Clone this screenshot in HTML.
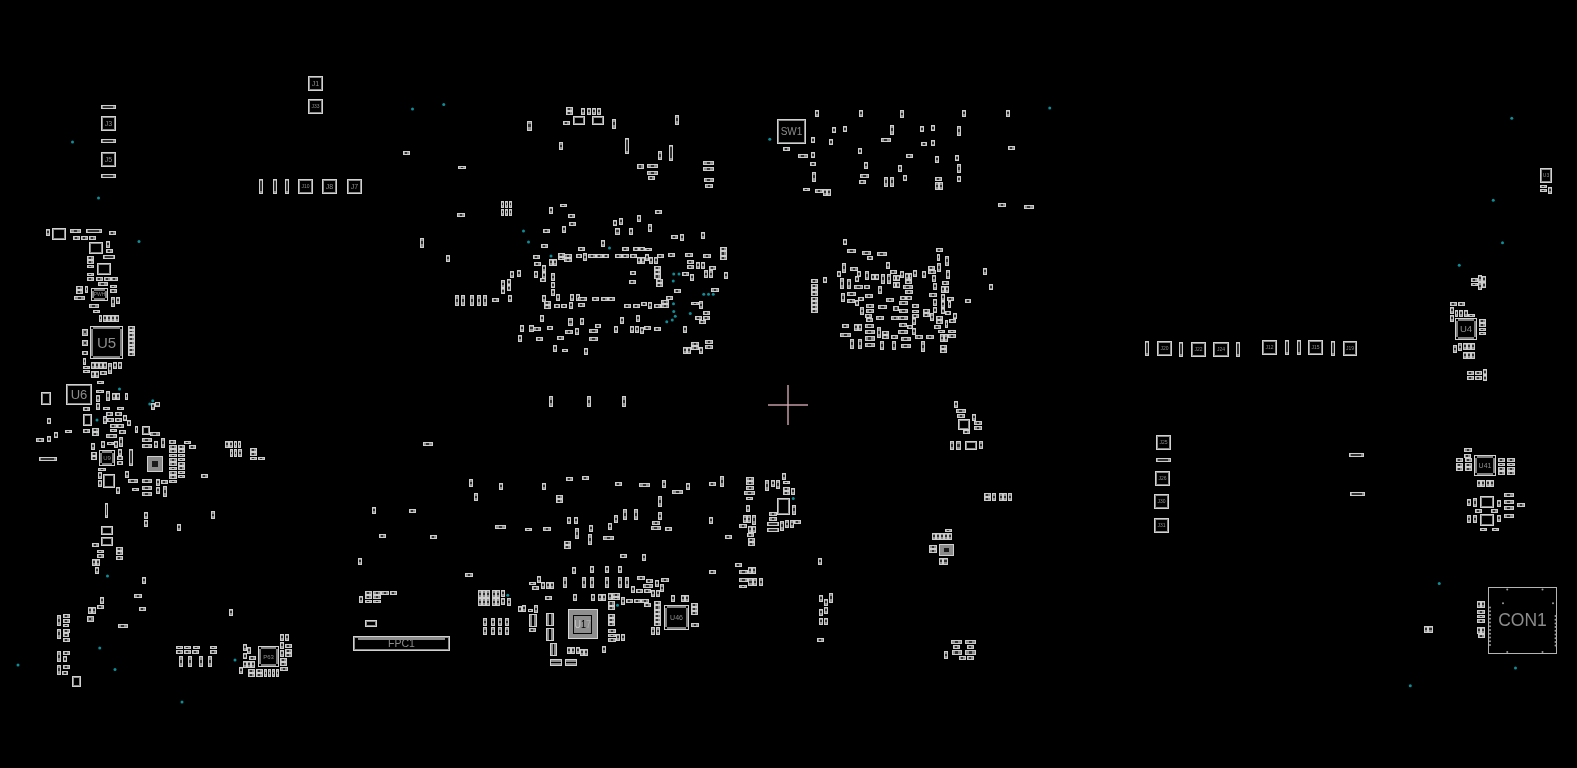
<!DOCTYPE html>
<html><head><meta charset="utf-8"><style>
html,body{margin:0;padding:0;background:#000;width:1577px;height:768px;overflow:hidden}
svg{display:block;will-change:transform}
.o{fill:none;stroke:#d2d2d2;stroke-width:1}
.c{fill:#8c8c8c;stroke:#cdcdcd;stroke-width:1}
.d{fill:#303030}
.e{fill:#3c3c3c}
.s{fill:none;stroke:#202020;stroke-width:1}
.i{fill:none;stroke:#8a8a8a;stroke-width:1}
.p{fill:none;stroke:#7e7e7e;stroke-width:2}
.t{font-family:"Liberation Sans",sans-serif;fill:#8c8c8c;text-anchor:middle}
</style></head><body>
<svg width="1577" height="768" viewBox="0 0 1577 768" shape-rendering="crispEdges">
<rect width="1577" height="768" fill="#000"/>
<rect x="101.5" y="105.5" width="14" height="3" class="c"/><rect x="103" y="106" width="10" height="2" class="d"/>
<rect x="101.5" y="139.5" width="14" height="3" class="c"/><rect x="103" y="140" width="10" height="2" class="d"/>
<rect x="101.5" y="174.5" width="14" height="3" class="c"/><rect x="103" y="175" width="10" height="2" class="d"/>
<rect x="46.5" y="229.5" width="3" height="6" class="c"/><rect x="47" y="231" width="2" height="2" class="d"/>
<rect x="70.5" y="229.5" width="10" height="3" class="c"/><rect x="74" y="230" width="3" height="2" class="d"/>
<rect x="86.5" y="229.5" width="15" height="3" class="c"/><rect x="88" y="230" width="11" height="2" class="d"/>
<rect x="109.5" y="231.5" width="6" height="3" class="c"/><rect x="111" y="232" width="2" height="2" class="d"/>
<rect x="73.5" y="236.5" width="6" height="3" class="c"/><rect x="75" y="237" width="2" height="2" class="d"/>
<rect x="81.5" y="236.5" width="6" height="3" class="c"/><rect x="83" y="237" width="2" height="2" class="d"/>
<rect x="89.5" y="236.5" width="6" height="3" class="c"/><rect x="91" y="237" width="2" height="2" class="d"/>
<rect x="106.5" y="241.5" width="3" height="6" class="c"/><rect x="107" y="243" width="2" height="2" class="d"/>
<rect x="106.5" y="249.5" width="6" height="3" class="c"/><rect x="108" y="250" width="2" height="2" class="d"/>
<rect x="103.5" y="255.5" width="11" height="3" class="c"/><rect x="105" y="256" width="8" height="2" class="d"/>
<rect x="87.5" y="256.5" width="6" height="3" class="c"/><rect x="89" y="257" width="2" height="2" class="d"/>
<rect x="87.5" y="260.5" width="6" height="3" class="c"/><rect x="89" y="261" width="2" height="2" class="d"/>
<rect x="87.5" y="265.5" width="6" height="2" class="c"/><rect x="89" y="266" width="2" height="1" class="d"/>
<rect x="87.5" y="273.5" width="6" height="2" class="c"/><rect x="89" y="274" width="2" height="1" class="d"/>
<rect x="87.5" y="277.5" width="6" height="3" class="c"/><rect x="89" y="278" width="2" height="2" class="d"/>
<rect x="96.5" y="277.5" width="6" height="3" class="c"/><rect x="98" y="278" width="2" height="2" class="d"/>
<rect x="104.5" y="277.5" width="6" height="3" class="c"/><rect x="106" y="278" width="2" height="2" class="d"/>
<rect x="111.5" y="277.5" width="6" height="3" class="c"/><rect x="113" y="278" width="2" height="2" class="d"/>
<rect x="98.5" y="282.5" width="9" height="3" class="c"/><rect x="101" y="283" width="3" height="2" class="d"/>
<rect x="110.5" y="285.5" width="6" height="2" class="c"/><rect x="112" y="286" width="2" height="1" class="d"/>
<rect x="110.5" y="289.5" width="6" height="3" class="c"/><rect x="112" y="290" width="2" height="2" class="d"/>
<rect x="76.5" y="286.5" width="6" height="3" class="c"/><rect x="78" y="287" width="2" height="2" class="d"/>
<rect x="76.5" y="290.5" width="6" height="3" class="c"/><rect x="78" y="291" width="2" height="2" class="d"/>
<rect x="85.5" y="286.5" width="2" height="6" class="c"/><rect x="86" y="288" width="1" height="2" class="d"/>
<rect x="74.5" y="296.5" width="10" height="3" class="c"/><rect x="78" y="297" width="3" height="2" class="d"/>
<rect x="111.5" y="297.5" width="3" height="9" class="c"/><rect x="112" y="300" width="2" height="3" class="d"/>
<rect x="116.5" y="297.5" width="3" height="6" class="c"/><rect x="117" y="299" width="2" height="2" class="d"/>
<rect x="89.5" y="304.5" width="9" height="3" class="c"/><rect x="92" y="305" width="3" height="2" class="d"/>
<rect x="93.5" y="310.5" width="6" height="2" class="c"/><rect x="95" y="311" width="2" height="1" class="d"/>
<rect x="99.5" y="315.5" width="2" height="6" class="c"/><rect x="100" y="317" width="1" height="2" class="d"/>
<rect x="103.5" y="315.5" width="3" height="6" class="c"/><rect x="104" y="317" width="2" height="2" class="d"/>
<rect x="107.5" y="315.5" width="3" height="6" class="c"/><rect x="108" y="317" width="2" height="2" class="d"/>
<rect x="111.5" y="315.5" width="3" height="6" class="c"/><rect x="112" y="317" width="2" height="2" class="d"/>
<rect x="115.5" y="315.5" width="3" height="6" class="c"/><rect x="116" y="317" width="2" height="2" class="d"/>
<rect x="128.5" y="326.5" width="6" height="3" class="c"/><rect x="130" y="327" width="2" height="2" class="d"/>
<rect x="128.5" y="330.5" width="6" height="2" class="c"/><rect x="130" y="331" width="2" height="1" class="d"/>
<rect x="128.5" y="333.5" width="6" height="3" class="c"/><rect x="130" y="334" width="2" height="2" class="d"/>
<rect x="128.5" y="337.5" width="6" height="3" class="c"/><rect x="130" y="338" width="2" height="2" class="d"/>
<rect x="128.5" y="341.5" width="6" height="3" class="c"/><rect x="130" y="342" width="2" height="2" class="d"/>
<rect x="128.5" y="345.5" width="6" height="2" class="c"/><rect x="130" y="346" width="2" height="1" class="d"/>
<rect x="128.5" y="348.5" width="6" height="3" class="c"/><rect x="130" y="349" width="2" height="2" class="d"/>
<rect x="128.5" y="352.5" width="6" height="3" class="c"/><rect x="130" y="353" width="2" height="2" class="d"/>
<rect x="82.5" y="329.5" width="5" height="6" class="c"/><rect x="84" y="331" width="2" height="2" class="d"/>
<rect x="82.5" y="340.5" width="5" height="5" class="c"/><rect x="84" y="342" width="2" height="2" class="d"/>
<rect x="82.5" y="351.5" width="5" height="3" class="c"/><rect x="84" y="352" width="2" height="2" class="d"/>
<rect x="83.5" y="358.5" width="2" height="6" class="c"/><rect x="84" y="360" width="1" height="2" class="d"/>
<rect x="91.5" y="362.5" width="3" height="6" class="c"/><rect x="92" y="364" width="2" height="2" class="d"/>
<rect x="95.5" y="362.5" width="3" height="6" class="c"/><rect x="96" y="364" width="2" height="2" class="d"/>
<rect x="99.5" y="362.5" width="3" height="6" class="c"/><rect x="100" y="364" width="2" height="2" class="d"/>
<rect x="103.5" y="362.5" width="3" height="6" class="c"/><rect x="104" y="364" width="2" height="2" class="d"/>
<rect x="108.5" y="363.5" width="3" height="10" class="c"/><rect x="109" y="367" width="2" height="3" class="d"/>
<rect x="113.5" y="362.5" width="3" height="6" class="c"/><rect x="114" y="364" width="2" height="2" class="d"/>
<rect x="118.5" y="362.5" width="3" height="6" class="c"/><rect x="119" y="364" width="2" height="2" class="d"/>
<rect x="83.5" y="366.5" width="6" height="2" class="c"/><rect x="85" y="367" width="2" height="1" class="d"/>
<rect x="83.5" y="370.5" width="6" height="2" class="c"/><rect x="85" y="371" width="2" height="1" class="d"/>
<rect x="91.5" y="371.5" width="3" height="6" class="c"/><rect x="92" y="373" width="2" height="2" class="d"/>
<rect x="95.5" y="371.5" width="3" height="6" class="c"/><rect x="96" y="373" width="2" height="2" class="d"/>
<rect x="100.5" y="371.5" width="6" height="3" class="c"/><rect x="102" y="372" width="2" height="2" class="d"/>
<rect x="97.5" y="381.5" width="6" height="2" class="c"/><rect x="99" y="382" width="2" height="1" class="d"/>
<rect x="96.5" y="390.5" width="7" height="2" class="c"/><rect x="99" y="391" width="2" height="1" class="d"/>
<rect x="96.5" y="395.5" width="3" height="6" class="c"/><rect x="97" y="397" width="2" height="2" class="d"/>
<rect x="106.5" y="391.5" width="3" height="9" class="c"/><rect x="107" y="394" width="2" height="3" class="d"/>
<rect x="112.5" y="393.5" width="3" height="6" class="c"/><rect x="113" y="395" width="2" height="2" class="d"/>
<rect x="116.5" y="393.5" width="3" height="6" class="c"/><rect x="117" y="395" width="2" height="2" class="d"/>
<rect x="125.5" y="393.5" width="2" height="6" class="c"/><rect x="126" y="395" width="1" height="2" class="d"/>
<rect x="151.5" y="403.5" width="3" height="6" class="c"/><rect x="152" y="405" width="2" height="2" class="d"/>
<rect x="155.5" y="402.5" width="4" height="4" class="c"/><rect x="156" y="403" width="3" height="2" class="d"/>
<rect x="96.5" y="403.5" width="3" height="6" class="c"/><rect x="97" y="405" width="2" height="2" class="d"/>
<rect x="83.5" y="407.5" width="6" height="3" class="c"/><rect x="85" y="408" width="2" height="2" class="d"/>
<rect x="103.5" y="407.5" width="6" height="2" class="c"/><rect x="105" y="408" width="2" height="1" class="d"/>
<rect x="117.5" y="407.5" width="6" height="2" class="c"/><rect x="119" y="408" width="2" height="1" class="d"/>
<rect x="103.5" y="416.5" width="3" height="7" class="c"/><rect x="104" y="419" width="2" height="2" class="d"/>
<rect x="106.5" y="412.5" width="6" height="3" class="c"/><rect x="108" y="413" width="2" height="2" class="d"/>
<rect x="107.5" y="418.5" width="6" height="3" class="c"/><rect x="109" y="419" width="2" height="2" class="d"/>
<rect x="115.5" y="412.5" width="6" height="3" class="c"/><rect x="117" y="413" width="2" height="2" class="d"/>
<rect x="115.5" y="418.5" width="6" height="3" class="c"/><rect x="117" y="419" width="2" height="2" class="d"/>
<rect x="123.5" y="415.5" width="3" height="5" class="c"/><rect x="124" y="417" width="2" height="2" class="d"/>
<rect x="127.5" y="420.5" width="3" height="5" class="c"/><rect x="128" y="422" width="2" height="2" class="d"/>
<rect x="47.5" y="418.5" width="3" height="5" class="c"/><rect x="48" y="420" width="2" height="2" class="d"/>
<rect x="110.5" y="424.5" width="6" height="3" class="c"/><rect x="112" y="425" width="2" height="2" class="d"/>
<rect x="117.5" y="424.5" width="6" height="3" class="c"/><rect x="119" y="425" width="2" height="2" class="d"/>
<rect x="110.5" y="429.5" width="6" height="2" class="c"/><rect x="112" y="430" width="2" height="1" class="d"/>
<rect x="119.5" y="430.5" width="6" height="3" class="c"/><rect x="121" y="431" width="2" height="2" class="d"/>
<rect x="135.5" y="426.5" width="2" height="6" class="c"/><rect x="136" y="428" width="1" height="2" class="d"/>
<rect x="65.5" y="430.5" width="6" height="2" class="c"/><rect x="67" y="431" width="2" height="1" class="d"/>
<rect x="83.5" y="429.5" width="6" height="3" class="c"/><rect x="85" y="430" width="2" height="2" class="d"/>
<rect x="92.5" y="428.5" width="6" height="3" class="c"/><rect x="94" y="429" width="2" height="2" class="d"/>
<rect x="92.5" y="432.5" width="6" height="3" class="c"/><rect x="94" y="433" width="2" height="2" class="d"/>
<rect x="150.5" y="432.5" width="9" height="3" class="c"/><rect x="153" y="433" width="3" height="2" class="d"/>
<rect x="106.5" y="434.5" width="10" height="3" class="c"/><rect x="110" y="435" width="3" height="2" class="d"/>
<rect x="54.5" y="432.5" width="3" height="5" class="c"/><rect x="55" y="434" width="2" height="2" class="d"/>
<rect x="36.5" y="438.5" width="7" height="3" class="c"/><rect x="39" y="439" width="2" height="2" class="d"/>
<rect x="47.5" y="436.5" width="3" height="5" class="c"/><rect x="48" y="438" width="2" height="2" class="d"/>
<rect x="142.5" y="438.5" width="9" height="3" class="c"/><rect x="145" y="439" width="3" height="2" class="d"/>
<rect x="142.5" y="444.5" width="9" height="3" class="c"/><rect x="145" y="445" width="3" height="2" class="d"/>
<rect x="154.5" y="441.5" width="3" height="6" class="c"/><rect x="155" y="443" width="2" height="2" class="d"/>
<rect x="161.5" y="438.5" width="3" height="9" class="c"/><rect x="162" y="441" width="2" height="3" class="d"/>
<rect x="119.5" y="437.5" width="3" height="9" class="c"/><rect x="120" y="440" width="2" height="3" class="d"/>
<rect x="101.5" y="441.5" width="3" height="6" class="c"/><rect x="102" y="443" width="2" height="2" class="d"/>
<rect x="107.5" y="442.5" width="6" height="2" class="c"/><rect x="109" y="443" width="2" height="1" class="d"/>
<rect x="114.5" y="441.5" width="3" height="6" class="c"/><rect x="115" y="443" width="2" height="2" class="d"/>
<rect x="91.5" y="443.5" width="3" height="6" class="c"/><rect x="92" y="445" width="2" height="2" class="d"/>
<rect x="91.5" y="452.5" width="5" height="3" class="c"/><rect x="93" y="453" width="2" height="2" class="d"/>
<rect x="91.5" y="456.5" width="5" height="3" class="c"/><rect x="93" y="457" width="2" height="2" class="d"/>
<rect x="118.5" y="449.5" width="3" height="6" class="c"/><rect x="119" y="451" width="2" height="2" class="d"/>
<rect x="117.5" y="456.5" width="5" height="3" class="c"/><rect x="119" y="457" width="2" height="2" class="d"/>
<rect x="117.5" y="461.5" width="5" height="3" class="c"/><rect x="119" y="462" width="2" height="2" class="d"/>
<rect x="129.5" y="449.5" width="3" height="16" class="c"/><rect x="130" y="451" width="2" height="12" class="d"/>
<rect x="169.5" y="440.5" width="6" height="3" class="c"/><rect x="171" y="441" width="2" height="2" class="d"/>
<rect x="184.5" y="441.5" width="6" height="2" class="c"/><rect x="186" y="442" width="2" height="1" class="d"/>
<rect x="169.5" y="445.5" width="7" height="3" class="c"/><rect x="172" y="446" width="2" height="2" class="d"/>
<rect x="169.5" y="449.5" width="7" height="3" class="c"/><rect x="172" y="450" width="2" height="2" class="d"/>
<rect x="169.5" y="454.5" width="7" height="2" class="c"/><rect x="172" y="455" width="2" height="1" class="d"/>
<rect x="169.5" y="458.5" width="7" height="3" class="c"/><rect x="172" y="459" width="2" height="2" class="d"/>
<rect x="169.5" y="462.5" width="7" height="3" class="c"/><rect x="172" y="463" width="2" height="2" class="d"/>
<rect x="169.5" y="467.5" width="7" height="2" class="c"/><rect x="172" y="468" width="2" height="1" class="d"/>
<rect x="169.5" y="471.5" width="7" height="3" class="c"/><rect x="172" y="472" width="2" height="2" class="d"/>
<rect x="169.5" y="475.5" width="7" height="3" class="c"/><rect x="172" y="476" width="2" height="2" class="d"/>
<rect x="169.5" y="480.5" width="7" height="2" class="c"/><rect x="172" y="481" width="2" height="1" class="d"/>
<rect x="178.5" y="445.5" width="6" height="3" class="c"/><rect x="180" y="446" width="2" height="2" class="d"/>
<rect x="178.5" y="449.5" width="6" height="3" class="c"/><rect x="180" y="450" width="2" height="2" class="d"/>
<rect x="178.5" y="454.5" width="6" height="2" class="c"/><rect x="180" y="455" width="2" height="1" class="d"/>
<rect x="178.5" y="458.5" width="6" height="2" class="c"/><rect x="180" y="459" width="2" height="1" class="d"/>
<rect x="178.5" y="462.5" width="6" height="3" class="c"/><rect x="180" y="463" width="2" height="2" class="d"/>
<rect x="178.5" y="466.5" width="6" height="3" class="c"/><rect x="180" y="467" width="2" height="2" class="d"/>
<rect x="178.5" y="471.5" width="6" height="2" class="c"/><rect x="180" y="472" width="2" height="1" class="d"/>
<rect x="178.5" y="475.5" width="6" height="2" class="c"/><rect x="180" y="476" width="2" height="1" class="d"/>
<rect x="39.5" y="457.5" width="17" height="3" class="c"/><rect x="41" y="458" width="13" height="2" class="d"/>
<rect x="98.5" y="468.5" width="7" height="2" class="c"/><rect x="101" y="469" width="2" height="1" class="d"/>
<rect x="98.5" y="472.5" width="3" height="6" class="c"/><rect x="99" y="474" width="2" height="2" class="d"/>
<rect x="98.5" y="480.5" width="3" height="6" class="c"/><rect x="99" y="482" width="2" height="2" class="d"/>
<rect x="125.5" y="471.5" width="3" height="6" class="c"/><rect x="126" y="473" width="2" height="2" class="d"/>
<rect x="128.5" y="479.5" width="9" height="3" class="c"/><rect x="131" y="480" width="3" height="2" class="d"/>
<rect x="142.5" y="479.5" width="9" height="3" class="c"/><rect x="145" y="480" width="3" height="2" class="d"/>
<rect x="142.5" y="486.5" width="9" height="3" class="c"/><rect x="145" y="487" width="3" height="2" class="d"/>
<rect x="142.5" y="492.5" width="9" height="3" class="c"/><rect x="145" y="493" width="3" height="2" class="d"/>
<rect x="156.5" y="479.5" width="3" height="6" class="c"/><rect x="157" y="481" width="2" height="2" class="d"/>
<rect x="156.5" y="487.5" width="3" height="6" class="c"/><rect x="157" y="489" width="2" height="2" class="d"/>
<rect x="161.5" y="480.5" width="6" height="3" class="c"/><rect x="163" y="481" width="2" height="2" class="d"/>
<rect x="163.5" y="486.5" width="3" height="10" class="c"/><rect x="164" y="490" width="2" height="3" class="d"/>
<rect x="132.5" y="488.5" width="6" height="2" class="c"/><rect x="134" y="489" width="2" height="1" class="d"/>
<rect x="116.5" y="487.5" width="3" height="6" class="c"/><rect x="117" y="489" width="2" height="2" class="d"/>
<rect x="105.5" y="503.5" width="2" height="14" class="c"/><rect x="106" y="505" width="1" height="10" class="d"/>
<rect x="144.5" y="512.5" width="3" height="6" class="c"/><rect x="145" y="514" width="2" height="2" class="d"/>
<rect x="144.5" y="520.5" width="3" height="6" class="c"/><rect x="145" y="522" width="2" height="2" class="d"/>
<rect x="177.5" y="524.5" width="3" height="6" class="c"/><rect x="178" y="526" width="2" height="2" class="d"/>
<rect x="92.5" y="543.5" width="6" height="3" class="c"/><rect x="94" y="544" width="2" height="2" class="d"/>
<rect x="97.5" y="550.5" width="6" height="2" class="c"/><rect x="99" y="551" width="2" height="1" class="d"/>
<rect x="97.5" y="554.5" width="6" height="3" class="c"/><rect x="99" y="555" width="2" height="2" class="d"/>
<rect x="116.5" y="547.5" width="6" height="3" class="c"/><rect x="118" y="548" width="2" height="2" class="d"/>
<rect x="116.5" y="551.5" width="6" height="3" class="c"/><rect x="118" y="552" width="2" height="2" class="d"/>
<rect x="116.5" y="556.5" width="6" height="3" class="c"/><rect x="118" y="557" width="2" height="2" class="d"/>
<rect x="92.5" y="559.5" width="3" height="6" class="c"/><rect x="93" y="561" width="2" height="2" class="d"/>
<rect x="96.5" y="559.5" width="3" height="6" class="c"/><rect x="97" y="561" width="2" height="2" class="d"/>
<rect x="95.5" y="567.5" width="3" height="6" class="c"/><rect x="96" y="569" width="2" height="2" class="d"/>
<rect x="142.5" y="577.5" width="3" height="6" class="c"/><rect x="143" y="579" width="2" height="2" class="d"/>
<rect x="134.5" y="594.5" width="7" height="3" class="c"/><rect x="137" y="595" width="2" height="2" class="d"/>
<rect x="100.5" y="597.5" width="3" height="6" class="c"/><rect x="101" y="599" width="2" height="2" class="d"/>
<rect x="97.5" y="605.5" width="6" height="3" class="c"/><rect x="99" y="606" width="2" height="2" class="d"/>
<rect x="88.5" y="607.5" width="3" height="6" class="c"/><rect x="89" y="609" width="2" height="2" class="d"/>
<rect x="92.5" y="607.5" width="3" height="6" class="c"/><rect x="93" y="609" width="2" height="2" class="d"/>
<rect x="139.5" y="607.5" width="6" height="3" class="c"/><rect x="141" y="608" width="2" height="2" class="d"/>
<rect x="87.5" y="616.5" width="6" height="5" class="c"/><rect x="89" y="618" width="2" height="2" class="d"/>
<rect x="118.5" y="624.5" width="9" height="3" class="c"/><rect x="121" y="625" width="3" height="2" class="d"/>
<rect x="57.5" y="615.5" width="3" height="10" class="c"/><rect x="58" y="619" width="2" height="3" class="d"/>
<rect x="63.5" y="614.5" width="6" height="3" class="c"/><rect x="65" y="615" width="2" height="2" class="d"/>
<rect x="63.5" y="619.5" width="6" height="3" class="c"/><rect x="65" y="620" width="2" height="2" class="d"/>
<rect x="63.5" y="624.5" width="5" height="2" class="c"/><rect x="65" y="625" width="2" height="1" class="d"/>
<rect x="57.5" y="629.5" width="3" height="9" class="c"/><rect x="58" y="632" width="2" height="3" class="d"/>
<rect x="63.5" y="629.5" width="6" height="3" class="c"/><rect x="65" y="630" width="2" height="2" class="d"/>
<rect x="63.5" y="633.5" width="5" height="3" class="c"/><rect x="65" y="634" width="2" height="2" class="d"/>
<rect x="63.5" y="638.5" width="6" height="3" class="c"/><rect x="65" y="639" width="2" height="2" class="d"/>
<rect x="57.5" y="651.5" width="3" height="10" class="c"/><rect x="58" y="655" width="2" height="3" class="d"/>
<rect x="63.5" y="651.5" width="6" height="3" class="c"/><rect x="65" y="652" width="2" height="2" class="d"/>
<rect x="63.5" y="656.5" width="3" height="5" class="c"/><rect x="64" y="658" width="2" height="2" class="d"/>
<rect x="57.5" y="665.5" width="3" height="9" class="c"/><rect x="58" y="668" width="2" height="3" class="d"/>
<rect x="63.5" y="665.5" width="6" height="3" class="c"/><rect x="65" y="666" width="2" height="2" class="d"/>
<rect x="62.5" y="671.5" width="5" height="3" class="c"/><rect x="64" y="672" width="2" height="2" class="d"/>
<rect x="176.5" y="646.5" width="6" height="2" class="c"/><rect x="178" y="647" width="2" height="1" class="d"/>
<rect x="184.5" y="646.5" width="6" height="2" class="c"/><rect x="186" y="647" width="2" height="1" class="d"/>
<rect x="176.5" y="650.5" width="6" height="3" class="c"/><rect x="178" y="651" width="2" height="2" class="d"/>
<rect x="184.5" y="650.5" width="6" height="3" class="c"/><rect x="186" y="651" width="2" height="2" class="d"/>
<rect x="179.5" y="656.5" width="3" height="10" class="c"/><rect x="180" y="660" width="2" height="3" class="d"/>
<rect x="188.5" y="656.5" width="3" height="10" class="c"/><rect x="189" y="660" width="2" height="3" class="d"/>
<rect x="189.5" y="445.5" width="6" height="3" class="c"/><rect x="191" y="446" width="2" height="2" class="d"/>
<rect x="201.5" y="474.5" width="6" height="3" class="c"/><rect x="203" y="475" width="2" height="2" class="d"/>
<rect x="225.5" y="441.5" width="3" height="6" class="c"/><rect x="226" y="443" width="2" height="2" class="d"/>
<rect x="229.5" y="441.5" width="3" height="6" class="c"/><rect x="230" y="443" width="2" height="2" class="d"/>
<rect x="234.5" y="441.5" width="2" height="6" class="c"/><rect x="235" y="443" width="1" height="2" class="d"/>
<rect x="238.5" y="441.5" width="2" height="6" class="c"/><rect x="239" y="443" width="1" height="2" class="d"/>
<rect x="230.5" y="449.5" width="2" height="7" class="c"/><rect x="231" y="452" width="1" height="2" class="d"/>
<rect x="234.5" y="449.5" width="2" height="7" class="c"/><rect x="235" y="452" width="1" height="2" class="d"/>
<rect x="238.5" y="449.5" width="3" height="7" class="c"/><rect x="239" y="452" width="2" height="2" class="d"/>
<rect x="250.5" y="448.5" width="6" height="3" class="c"/><rect x="252" y="449" width="2" height="2" class="d"/>
<rect x="250.5" y="452.5" width="6" height="3" class="c"/><rect x="252" y="453" width="2" height="2" class="d"/>
<rect x="250.5" y="457.5" width="6" height="2" class="c"/><rect x="252" y="458" width="2" height="1" class="d"/>
<rect x="258.5" y="457.5" width="6" height="2" class="c"/><rect x="260" y="458" width="2" height="1" class="d"/>
<rect x="211.5" y="511.5" width="3" height="7" class="c"/><rect x="212" y="514" width="2" height="2" class="d"/>
<rect x="229.5" y="609.5" width="3" height="6" class="c"/><rect x="230" y="611" width="2" height="2" class="d"/>
<rect x="193.5" y="646.5" width="6" height="2" class="c"/><rect x="195" y="647" width="2" height="1" class="d"/>
<rect x="210.5" y="646.5" width="6" height="2" class="c"/><rect x="212" y="647" width="2" height="1" class="d"/>
<rect x="192.5" y="650.5" width="6" height="3" class="c"/><rect x="194" y="651" width="2" height="2" class="d"/>
<rect x="210.5" y="650.5" width="6" height="3" class="c"/><rect x="212" y="651" width="2" height="2" class="d"/>
<rect x="199.5" y="656.5" width="3" height="10" class="c"/><rect x="200" y="660" width="2" height="3" class="d"/>
<rect x="208.5" y="656.5" width="3" height="10" class="c"/><rect x="209" y="660" width="2" height="3" class="d"/>
<rect x="243.5" y="644.5" width="3" height="6" class="c"/><rect x="244" y="646" width="2" height="2" class="d"/>
<rect x="247.5" y="647.5" width="3" height="6" class="c"/><rect x="248" y="649" width="2" height="2" class="d"/>
<rect x="243.5" y="653.5" width="3" height="5" class="c"/><rect x="244" y="655" width="2" height="2" class="d"/>
<rect x="249.5" y="656.5" width="6" height="3" class="c"/><rect x="251" y="657" width="2" height="2" class="d"/>
<rect x="243.5" y="661.5" width="3" height="6" class="c"/><rect x="244" y="663" width="2" height="2" class="d"/>
<rect x="247.5" y="661.5" width="3" height="6" class="c"/><rect x="248" y="663" width="2" height="2" class="d"/>
<rect x="251.5" y="661.5" width="3" height="6" class="c"/><rect x="252" y="663" width="2" height="2" class="d"/>
<rect x="239.5" y="667.5" width="3" height="6" class="c"/><rect x="240" y="669" width="2" height="2" class="d"/>
<rect x="248.5" y="669.5" width="6" height="3" class="c"/><rect x="250" y="670" width="2" height="2" class="d"/>
<rect x="248.5" y="673.5" width="6" height="3" class="c"/><rect x="250" y="674" width="2" height="2" class="d"/>
<rect x="256.5" y="669.5" width="6" height="3" class="c"/><rect x="258" y="670" width="2" height="2" class="d"/>
<rect x="256.5" y="673.5" width="6" height="3" class="c"/><rect x="258" y="674" width="2" height="2" class="d"/>
<rect x="264.5" y="669.5" width="2" height="7" class="c"/><rect x="265" y="672" width="1" height="2" class="d"/>
<rect x="268.5" y="669.5" width="2" height="7" class="c"/><rect x="269" y="672" width="1" height="2" class="d"/>
<rect x="272.5" y="669.5" width="2" height="7" class="c"/><rect x="273" y="672" width="1" height="2" class="d"/>
<rect x="276.5" y="669.5" width="2" height="7" class="c"/><rect x="277" y="672" width="1" height="2" class="d"/>
<rect x="280.5" y="634.5" width="3" height="6" class="c"/><rect x="281" y="636" width="2" height="2" class="d"/>
<rect x="285.5" y="634.5" width="3" height="6" class="c"/><rect x="286" y="636" width="2" height="2" class="d"/>
<rect x="280.5" y="642.5" width="3" height="6" class="c"/><rect x="281" y="644" width="2" height="2" class="d"/>
<rect x="285.5" y="644.5" width="6" height="3" class="c"/><rect x="287" y="645" width="2" height="2" class="d"/>
<rect x="280.5" y="650.5" width="3" height="6" class="c"/><rect x="281" y="652" width="2" height="2" class="d"/>
<rect x="285.5" y="649.5" width="6" height="3" class="c"/><rect x="287" y="650" width="2" height="2" class="d"/>
<rect x="285.5" y="653.5" width="6" height="3" class="c"/><rect x="287" y="654" width="2" height="2" class="d"/>
<rect x="280.5" y="658.5" width="6" height="3" class="c"/><rect x="282" y="659" width="2" height="2" class="d"/>
<rect x="280.5" y="662.5" width="6" height="3" class="c"/><rect x="282" y="663" width="2" height="2" class="d"/>
<rect x="280.5" y="667.5" width="7" height="3" class="c"/><rect x="283" y="668" width="2" height="2" class="d"/>
<rect x="403.5" y="151.5" width="6" height="3" class="c"/><rect x="405" y="152" width="2" height="2" class="d"/>
<rect x="259.5" y="179.5" width="3" height="14" class="c"/><rect x="260" y="181" width="2" height="10" class="d"/>
<rect x="273.5" y="179.5" width="3" height="14" class="c"/><rect x="274" y="181" width="2" height="10" class="d"/>
<rect x="285.5" y="179.5" width="3" height="14" class="c"/><rect x="286" y="181" width="2" height="10" class="d"/>
<rect x="420.5" y="238.5" width="3" height="9" class="c"/><rect x="421" y="241" width="2" height="3" class="d"/>
<rect x="566.5" y="107.5" width="6" height="3" class="c"/><rect x="568" y="108" width="2" height="2" class="d"/>
<rect x="566.5" y="111.5" width="6" height="3" class="c"/><rect x="568" y="112" width="2" height="2" class="d"/>
<rect x="581.5" y="108.5" width="3" height="6" class="c"/><rect x="582" y="110" width="2" height="2" class="d"/>
<rect x="587.5" y="108.5" width="3" height="6" class="c"/><rect x="588" y="110" width="2" height="2" class="d"/>
<rect x="592.5" y="108.5" width="3" height="6" class="c"/><rect x="593" y="110" width="2" height="2" class="d"/>
<rect x="597.5" y="108.5" width="3" height="6" class="c"/><rect x="598" y="110" width="2" height="2" class="d"/>
<rect x="563.5" y="121.5" width="6" height="3" class="c"/><rect x="565" y="122" width="2" height="2" class="d"/>
<rect x="612.5" y="119.5" width="3" height="9" class="c"/><rect x="613" y="122" width="2" height="3" class="d"/>
<rect x="527.5" y="121.5" width="4" height="9" class="c"/><rect x="528" y="124" width="3" height="3" class="d"/>
<rect x="559.5" y="142.5" width="3" height="7" class="c"/><rect x="560" y="145" width="2" height="2" class="d"/>
<rect x="458.5" y="166.5" width="7" height="2" class="c"/><rect x="461" y="167" width="2" height="1" class="d"/>
<rect x="501.5" y="201.5" width="2" height="6" class="c"/><rect x="502" y="203" width="1" height="2" class="d"/>
<rect x="501.5" y="209.5" width="2" height="6" class="c"/><rect x="502" y="211" width="1" height="2" class="d"/>
<rect x="505.5" y="201.5" width="2" height="6" class="c"/><rect x="506" y="203" width="1" height="2" class="d"/>
<rect x="505.5" y="209.5" width="2" height="6" class="c"/><rect x="506" y="211" width="1" height="2" class="d"/>
<rect x="509.5" y="201.5" width="2" height="6" class="c"/><rect x="510" y="203" width="1" height="2" class="d"/>
<rect x="509.5" y="209.5" width="2" height="6" class="c"/><rect x="510" y="211" width="1" height="2" class="d"/>
<rect x="457.5" y="213.5" width="7" height="3" class="c"/><rect x="460" y="214" width="2" height="2" class="d"/>
<rect x="549.5" y="207.5" width="3" height="6" class="c"/><rect x="550" y="209" width="2" height="2" class="d"/>
<rect x="560.5" y="204.5" width="6" height="2" class="c"/><rect x="562" y="205" width="2" height="1" class="d"/>
<rect x="568.5" y="214.5" width="6" height="3" class="c"/><rect x="570" y="215" width="2" height="2" class="d"/>
<rect x="569.5" y="222.5" width="6" height="3" class="c"/><rect x="571" y="223" width="2" height="2" class="d"/>
<rect x="613.5" y="220.5" width="3" height="5" class="c"/><rect x="614" y="222" width="2" height="2" class="d"/>
<rect x="619.5" y="218.5" width="3" height="6" class="c"/><rect x="620" y="220" width="2" height="2" class="d"/>
<rect x="615.5" y="228.5" width="4" height="6" class="c"/><rect x="616" y="230" width="3" height="2" class="d"/>
<rect x="562.5" y="226.5" width="3" height="6" class="c"/><rect x="563" y="228" width="2" height="2" class="d"/>
<rect x="543.5" y="229.5" width="6" height="3" class="c"/><rect x="545" y="230" width="2" height="2" class="d"/>
<rect x="541.5" y="244.5" width="6" height="3" class="c"/><rect x="543" y="245" width="2" height="2" class="d"/>
<rect x="601.5" y="240.5" width="3" height="6" class="c"/><rect x="602" y="242" width="2" height="2" class="d"/>
<rect x="578.5" y="247.5" width="6" height="3" class="c"/><rect x="580" y="248" width="2" height="2" class="d"/>
<rect x="446.5" y="255.5" width="3" height="6" class="c"/><rect x="447" y="257" width="2" height="2" class="d"/>
<rect x="533.5" y="255.5" width="6" height="3" class="c"/><rect x="535" y="256" width="2" height="2" class="d"/>
<rect x="534.5" y="262.5" width="6" height="3" class="c"/><rect x="536" y="263" width="2" height="2" class="d"/>
<rect x="558.5" y="253.5" width="6" height="3" class="c"/><rect x="560" y="254" width="2" height="2" class="d"/>
<rect x="558.5" y="257.5" width="6" height="2" class="c"/><rect x="560" y="258" width="2" height="1" class="d"/>
<rect x="564.5" y="254.5" width="7" height="3" class="c"/><rect x="567" y="255" width="2" height="2" class="d"/>
<rect x="564.5" y="258.5" width="7" height="3" class="c"/><rect x="567" y="259" width="2" height="2" class="d"/>
<rect x="576.5" y="254.5" width="5" height="3" class="c"/><rect x="578" y="255" width="2" height="2" class="d"/>
<rect x="583.5" y="253.5" width="3" height="7" class="c"/><rect x="584" y="256" width="2" height="2" class="d"/>
<rect x="588.5" y="254.5" width="7" height="3" class="c"/><rect x="591" y="255" width="2" height="2" class="d"/>
<rect x="596.5" y="254.5" width="6" height="3" class="c"/><rect x="598" y="255" width="2" height="2" class="d"/>
<rect x="603.5" y="254.5" width="5" height="3" class="c"/><rect x="605" y="255" width="2" height="2" class="d"/>
<rect x="549.5" y="259.5" width="3" height="6" class="c"/><rect x="550" y="261" width="2" height="2" class="d"/>
<rect x="553.5" y="259.5" width="3" height="6" class="c"/><rect x="554" y="261" width="2" height="2" class="d"/>
<rect x="542.5" y="265.5" width="3" height="6" class="c"/><rect x="543" y="267" width="2" height="2" class="d"/>
<rect x="542.5" y="272.5" width="3" height="6" class="c"/><rect x="543" y="274" width="2" height="2" class="d"/>
<rect x="540.5" y="278.5" width="5" height="3" class="c"/><rect x="542" y="279" width="2" height="2" class="d"/>
<rect x="534.5" y="271.5" width="3" height="6" class="c"/><rect x="535" y="273" width="2" height="2" class="d"/>
<rect x="551.5" y="273.5" width="3" height="7" class="c"/><rect x="552" y="276" width="2" height="2" class="d"/>
<rect x="551.5" y="282.5" width="3" height="5" class="c"/><rect x="552" y="284" width="2" height="2" class="d"/>
<rect x="510.5" y="271.5" width="3" height="6" class="c"/><rect x="511" y="273" width="2" height="2" class="d"/>
<rect x="517.5" y="270.5" width="3" height="6" class="c"/><rect x="518" y="272" width="2" height="2" class="d"/>
<rect x="501.5" y="280.5" width="3" height="7" class="c"/><rect x="502" y="283" width="2" height="2" class="d"/>
<rect x="507.5" y="279.5" width="3" height="5" class="c"/><rect x="508" y="281" width="2" height="2" class="d"/>
<rect x="507.5" y="285.5" width="3" height="5" class="c"/><rect x="508" y="287" width="2" height="2" class="d"/>
<rect x="501.5" y="288.5" width="3" height="5" class="c"/><rect x="502" y="290" width="2" height="2" class="d"/>
<rect x="551.5" y="289.5" width="3" height="6" class="c"/><rect x="552" y="291" width="2" height="2" class="d"/>
<rect x="455.5" y="295.5" width="3" height="10" class="c"/><rect x="456" y="299" width="2" height="3" class="d"/>
<rect x="461.5" y="295.5" width="3" height="10" class="c"/><rect x="462" y="299" width="2" height="3" class="d"/>
<rect x="470.5" y="295.5" width="3" height="10" class="c"/><rect x="471" y="299" width="2" height="3" class="d"/>
<rect x="477.5" y="295.5" width="3" height="10" class="c"/><rect x="478" y="299" width="2" height="3" class="d"/>
<rect x="483.5" y="295.5" width="3" height="10" class="c"/><rect x="484" y="299" width="2" height="3" class="d"/>
<rect x="492.5" y="298.5" width="6" height="3" class="c"/><rect x="494" y="299" width="2" height="2" class="d"/>
<rect x="508.5" y="295.5" width="3" height="6" class="c"/><rect x="509" y="297" width="2" height="2" class="d"/>
<rect x="542.5" y="295.5" width="3" height="6" class="c"/><rect x="543" y="297" width="2" height="2" class="d"/>
<rect x="544.5" y="301.5" width="6" height="3" class="c"/><rect x="546" y="302" width="2" height="2" class="d"/>
<rect x="544.5" y="305.5" width="6" height="3" class="c"/><rect x="546" y="306" width="2" height="2" class="d"/>
<rect x="554.5" y="304.5" width="5" height="3" class="c"/><rect x="556" y="305" width="2" height="2" class="d"/>
<rect x="561.5" y="304.5" width="5" height="3" class="c"/><rect x="563" y="305" width="2" height="2" class="d"/>
<rect x="556.5" y="294.5" width="3" height="6" class="c"/><rect x="557" y="296" width="2" height="2" class="d"/>
<rect x="569.5" y="302.5" width="3" height="6" class="c"/><rect x="570" y="304" width="2" height="2" class="d"/>
<rect x="570.5" y="294.5" width="3" height="6" class="c"/><rect x="571" y="296" width="2" height="2" class="d"/>
<rect x="576.5" y="294.5" width="3" height="6" class="c"/><rect x="577" y="296" width="2" height="2" class="d"/>
<rect x="578.5" y="297.5" width="8" height="3" class="c"/><rect x="581" y="298" width="3" height="2" class="d"/>
<rect x="578.5" y="303.5" width="6" height="3" class="c"/><rect x="580" y="304" width="2" height="2" class="d"/>
<rect x="592.5" y="297.5" width="6" height="3" class="c"/><rect x="594" y="298" width="2" height="2" class="d"/>
<rect x="601.5" y="297.5" width="6" height="3" class="c"/><rect x="603" y="298" width="2" height="2" class="d"/>
<rect x="608.5" y="297.5" width="6" height="3" class="c"/><rect x="610" y="298" width="2" height="2" class="d"/>
<rect x="540.5" y="315.5" width="3" height="6" class="c"/><rect x="541" y="317" width="2" height="2" class="d"/>
<rect x="520.5" y="325.5" width="3" height="6" class="c"/><rect x="521" y="327" width="2" height="2" class="d"/>
<rect x="529.5" y="325.5" width="4" height="6" class="c"/><rect x="530" y="327" width="3" height="2" class="d"/>
<rect x="533.5" y="327.5" width="7" height="3" class="c"/><rect x="536" y="328" width="2" height="2" class="d"/>
<rect x="547.5" y="326.5" width="5" height="3" class="c"/><rect x="549" y="327" width="2" height="2" class="d"/>
<rect x="518.5" y="335.5" width="3" height="6" class="c"/><rect x="519" y="337" width="2" height="2" class="d"/>
<rect x="536.5" y="337.5" width="6" height="3" class="c"/><rect x="538" y="338" width="2" height="2" class="d"/>
<rect x="568.5" y="318.5" width="4" height="7" class="c"/><rect x="569" y="321" width="3" height="2" class="d"/>
<rect x="580.5" y="318.5" width="3" height="6" class="c"/><rect x="581" y="320" width="2" height="2" class="d"/>
<rect x="565.5" y="330.5" width="7" height="3" class="c"/><rect x="568" y="331" width="2" height="2" class="d"/>
<rect x="575.5" y="328.5" width="3" height="6" class="c"/><rect x="576" y="330" width="2" height="2" class="d"/>
<rect x="557.5" y="336.5" width="6" height="3" class="c"/><rect x="559" y="337" width="2" height="2" class="d"/>
<rect x="595.5" y="324.5" width="5" height="3" class="c"/><rect x="597" y="325" width="2" height="2" class="d"/>
<rect x="589.5" y="329.5" width="8" height="3" class="c"/><rect x="592" y="330" width="3" height="2" class="d"/>
<rect x="589.5" y="337.5" width="8" height="3" class="c"/><rect x="592" y="338" width="3" height="2" class="d"/>
<rect x="614.5" y="326.5" width="3" height="6" class="c"/><rect x="615" y="328" width="2" height="2" class="d"/>
<rect x="620.5" y="317.5" width="3" height="6" class="c"/><rect x="621" y="319" width="2" height="2" class="d"/>
<rect x="553.5" y="345.5" width="3" height="6" class="c"/><rect x="554" y="347" width="2" height="2" class="d"/>
<rect x="562.5" y="349.5" width="5" height="2" class="c"/><rect x="564" y="350" width="2" height="1" class="d"/>
<rect x="584.5" y="348.5" width="3" height="6" class="c"/><rect x="585" y="350" width="2" height="2" class="d"/>
<rect x="549.5" y="396.5" width="3" height="10" class="c"/><rect x="550" y="400" width="2" height="3" class="d"/>
<rect x="587.5" y="396.5" width="3" height="10" class="c"/><rect x="588" y="400" width="2" height="3" class="d"/>
<rect x="622.5" y="396.5" width="3" height="10" class="c"/><rect x="623" y="400" width="2" height="3" class="d"/>
<rect x="675.5" y="115.5" width="3" height="9" class="c"/><rect x="676" y="118" width="2" height="3" class="d"/>
<rect x="625.5" y="138.5" width="3" height="15" class="c"/><rect x="626" y="140" width="2" height="11" class="d"/>
<rect x="669.5" y="145.5" width="3" height="15" class="c"/><rect x="670" y="147" width="2" height="11" class="d"/>
<rect x="658.5" y="151.5" width="3" height="8" class="c"/><rect x="659" y="154" width="2" height="3" class="d"/>
<rect x="637.5" y="164.5" width="6" height="4" class="c"/><rect x="639" y="165" width="2" height="3" class="d"/>
<rect x="647.5" y="164.5" width="10" height="3" class="c"/><rect x="651" y="165" width="3" height="2" class="d"/>
<rect x="647.5" y="171.5" width="10" height="3" class="c"/><rect x="651" y="172" width="3" height="2" class="d"/>
<rect x="648.5" y="176.5" width="6" height="3" class="c"/><rect x="650" y="177" width="2" height="2" class="d"/>
<rect x="703.5" y="161.5" width="10" height="3" class="c"/><rect x="707" y="162" width="3" height="2" class="d"/>
<rect x="703.5" y="167.5" width="10" height="3" class="c"/><rect x="707" y="168" width="3" height="2" class="d"/>
<rect x="704.5" y="178.5" width="9" height="3" class="c"/><rect x="707" y="179" width="3" height="2" class="d"/>
<rect x="705.5" y="184.5" width="7" height="3" class="c"/><rect x="708" y="185" width="2" height="2" class="d"/>
<rect x="655.5" y="210.5" width="6" height="3" class="c"/><rect x="657" y="211" width="2" height="2" class="d"/>
<rect x="637.5" y="215.5" width="3" height="6" class="c"/><rect x="638" y="217" width="2" height="2" class="d"/>
<rect x="629.5" y="228.5" width="3" height="6" class="c"/><rect x="630" y="230" width="2" height="2" class="d"/>
<rect x="648.5" y="224.5" width="3" height="7" class="c"/><rect x="649" y="227" width="2" height="2" class="d"/>
<rect x="622.5" y="247.5" width="6" height="3" class="c"/><rect x="624" y="248" width="2" height="2" class="d"/>
<rect x="633.5" y="247.5" width="5" height="3" class="c"/><rect x="635" y="248" width="2" height="2" class="d"/>
<rect x="639.5" y="247.5" width="5" height="3" class="c"/><rect x="641" y="248" width="2" height="2" class="d"/>
<rect x="645.5" y="248.5" width="6" height="2" class="c"/><rect x="647" y="249" width="2" height="1" class="d"/>
<rect x="671.5" y="235.5" width="6" height="3" class="c"/><rect x="673" y="236" width="2" height="2" class="d"/>
<rect x="680.5" y="234.5" width="3" height="6" class="c"/><rect x="681" y="236" width="2" height="2" class="d"/>
<rect x="701.5" y="232.5" width="3" height="6" class="c"/><rect x="702" y="234" width="2" height="2" class="d"/>
<rect x="615.5" y="254.5" width="6" height="3" class="c"/><rect x="617" y="255" width="2" height="2" class="d"/>
<rect x="622.5" y="254.5" width="6" height="3" class="c"/><rect x="624" y="255" width="2" height="2" class="d"/>
<rect x="630.5" y="254.5" width="6" height="3" class="c"/><rect x="632" y="255" width="2" height="2" class="d"/>
<rect x="637.5" y="257.5" width="3" height="6" class="c"/><rect x="638" y="259" width="2" height="2" class="d"/>
<rect x="641.5" y="257.5" width="3" height="6" class="c"/><rect x="642" y="259" width="2" height="2" class="d"/>
<rect x="645.5" y="254.5" width="3" height="6" class="c"/><rect x="646" y="256" width="2" height="2" class="d"/>
<rect x="649.5" y="257.5" width="3" height="6" class="c"/><rect x="650" y="259" width="2" height="2" class="d"/>
<rect x="654.5" y="257.5" width="3" height="6" class="c"/><rect x="655" y="259" width="2" height="2" class="d"/>
<rect x="657.5" y="254.5" width="6" height="3" class="c"/><rect x="659" y="255" width="2" height="2" class="d"/>
<rect x="668.5" y="253.5" width="6" height="3" class="c"/><rect x="670" y="254" width="2" height="2" class="d"/>
<rect x="685.5" y="253.5" width="7" height="3" class="c"/><rect x="688" y="254" width="2" height="2" class="d"/>
<rect x="703.5" y="254.5" width="7" height="3" class="c"/><rect x="706" y="255" width="2" height="2" class="d"/>
<rect x="720.5" y="247.5" width="6" height="3" class="c"/><rect x="722" y="248" width="2" height="2" class="d"/>
<rect x="720.5" y="251.5" width="6" height="4" class="c"/><rect x="722" y="252" width="2" height="3" class="d"/>
<rect x="720.5" y="256.5" width="6" height="3" class="c"/><rect x="722" y="257" width="2" height="2" class="d"/>
<rect x="687.5" y="260.5" width="6" height="3" class="c"/><rect x="689" y="261" width="2" height="2" class="d"/>
<rect x="687.5" y="265.5" width="6" height="3" class="c"/><rect x="689" y="266" width="2" height="2" class="d"/>
<rect x="696.5" y="262.5" width="3" height="6" class="c"/><rect x="697" y="264" width="2" height="2" class="d"/>
<rect x="701.5" y="262.5" width="3" height="6" class="c"/><rect x="702" y="264" width="2" height="2" class="d"/>
<rect x="709.5" y="266.5" width="6" height="3" class="c"/><rect x="711" y="267" width="2" height="2" class="d"/>
<rect x="654.5" y="266.5" width="6" height="3" class="c"/><rect x="656" y="267" width="2" height="2" class="d"/>
<rect x="654.5" y="270.5" width="6" height="3" class="c"/><rect x="656" y="271" width="2" height="2" class="d"/>
<rect x="654.5" y="274.5" width="6" height="4" class="c"/><rect x="656" y="275" width="2" height="3" class="d"/>
<rect x="630.5" y="271.5" width="5" height="3" class="c"/><rect x="632" y="272" width="2" height="2" class="d"/>
<rect x="629.5" y="280.5" width="6" height="3" class="c"/><rect x="631" y="281" width="2" height="2" class="d"/>
<rect x="656.5" y="279.5" width="6" height="3" class="c"/><rect x="658" y="280" width="2" height="2" class="d"/>
<rect x="656.5" y="283.5" width="6" height="3" class="c"/><rect x="658" y="284" width="2" height="2" class="d"/>
<rect x="682.5" y="272.5" width="6" height="3" class="c"/><rect x="684" y="273" width="2" height="2" class="d"/>
<rect x="690.5" y="274.5" width="3" height="6" class="c"/><rect x="691" y="276" width="2" height="2" class="d"/>
<rect x="704.5" y="270.5" width="3" height="7" class="c"/><rect x="705" y="273" width="2" height="2" class="d"/>
<rect x="709.5" y="270.5" width="3" height="7" class="c"/><rect x="710" y="273" width="2" height="2" class="d"/>
<rect x="724.5" y="272.5" width="3" height="6" class="c"/><rect x="725" y="274" width="2" height="2" class="d"/>
<rect x="674.5" y="289.5" width="6" height="3" class="c"/><rect x="676" y="290" width="2" height="2" class="d"/>
<rect x="711.5" y="288.5" width="7" height="3" class="c"/><rect x="714" y="289" width="2" height="2" class="d"/>
<rect x="666.5" y="296.5" width="6" height="3" class="c"/><rect x="668" y="297" width="2" height="2" class="d"/>
<rect x="661.5" y="300.5" width="7" height="3" class="c"/><rect x="664" y="301" width="2" height="2" class="d"/>
<rect x="661.5" y="304.5" width="7" height="3" class="c"/><rect x="664" y="305" width="2" height="2" class="d"/>
<rect x="654.5" y="304.5" width="6" height="3" class="c"/><rect x="656" y="305" width="2" height="2" class="d"/>
<rect x="648.5" y="302.5" width="3" height="6" class="c"/><rect x="649" y="304" width="2" height="2" class="d"/>
<rect x="641.5" y="302.5" width="5" height="3" class="c"/><rect x="643" y="303" width="2" height="2" class="d"/>
<rect x="633.5" y="304.5" width="6" height="3" class="c"/><rect x="635" y="305" width="2" height="2" class="d"/>
<rect x="624.5" y="304.5" width="6" height="3" class="c"/><rect x="626" y="305" width="2" height="2" class="d"/>
<rect x="691.5" y="302.5" width="7" height="2" class="c"/><rect x="694" y="303" width="2" height="1" class="d"/>
<rect x="699.5" y="301.5" width="3" height="7" class="c"/><rect x="700" y="304" width="2" height="2" class="d"/>
<rect x="703.5" y="311.5" width="6" height="3" class="c"/><rect x="705" y="312" width="2" height="2" class="d"/>
<rect x="695.5" y="316.5" width="6" height="3" class="c"/><rect x="697" y="317" width="2" height="2" class="d"/>
<rect x="703.5" y="316.5" width="6" height="3" class="c"/><rect x="705" y="317" width="2" height="2" class="d"/>
<rect x="699.5" y="320.5" width="6" height="3" class="c"/><rect x="701" y="321" width="2" height="2" class="d"/>
<rect x="636.5" y="315.5" width="3" height="6" class="c"/><rect x="637" y="317" width="2" height="2" class="d"/>
<rect x="630.5" y="326.5" width="3" height="6" class="c"/><rect x="631" y="328" width="2" height="2" class="d"/>
<rect x="635.5" y="326.5" width="3" height="6" class="c"/><rect x="636" y="328" width="2" height="2" class="d"/>
<rect x="640.5" y="327.5" width="3" height="6" class="c"/><rect x="641" y="329" width="2" height="2" class="d"/>
<rect x="644.5" y="326.5" width="6" height="3" class="c"/><rect x="646" y="327" width="2" height="2" class="d"/>
<rect x="654.5" y="327.5" width="6" height="3" class="c"/><rect x="656" y="328" width="2" height="2" class="d"/>
<rect x="683.5" y="326.5" width="3" height="6" class="c"/><rect x="684" y="328" width="2" height="2" class="d"/>
<rect x="691.5" y="342.5" width="7" height="3" class="c"/><rect x="694" y="343" width="2" height="2" class="d"/>
<rect x="691.5" y="346.5" width="7" height="3" class="c"/><rect x="694" y="347" width="2" height="2" class="d"/>
<rect x="705.5" y="340.5" width="7" height="3" class="c"/><rect x="708" y="341" width="2" height="2" class="d"/>
<rect x="705.5" y="345.5" width="7" height="3" class="c"/><rect x="708" y="346" width="2" height="2" class="d"/>
<rect x="683.5" y="347.5" width="3" height="6" class="c"/><rect x="684" y="349" width="2" height="2" class="d"/>
<rect x="687.5" y="347.5" width="3" height="6" class="c"/><rect x="688" y="349" width="2" height="2" class="d"/>
<rect x="699.5" y="347.5" width="3" height="6" class="c"/><rect x="700" y="349" width="2" height="2" class="d"/>
<rect x="815.5" y="110.5" width="3" height="6" class="c"/><rect x="816" y="112" width="2" height="2" class="d"/>
<rect x="859.5" y="110.5" width="3" height="6" class="c"/><rect x="860" y="112" width="2" height="2" class="d"/>
<rect x="900.5" y="110.5" width="3" height="7" class="c"/><rect x="901" y="113" width="2" height="2" class="d"/>
<rect x="832.5" y="127.5" width="3" height="5" class="c"/><rect x="833" y="129" width="2" height="2" class="d"/>
<rect x="843.5" y="126.5" width="3" height="5" class="c"/><rect x="844" y="128" width="2" height="2" class="d"/>
<rect x="890.5" y="125.5" width="3" height="9" class="c"/><rect x="891" y="128" width="2" height="3" class="d"/>
<rect x="920.5" y="126.5" width="3" height="5" class="c"/><rect x="921" y="128" width="2" height="2" class="d"/>
<rect x="931.5" y="125.5" width="3" height="5" class="c"/><rect x="932" y="127" width="2" height="2" class="d"/>
<rect x="957.5" y="126.5" width="3" height="9" class="c"/><rect x="958" y="129" width="2" height="3" class="d"/>
<rect x="811.5" y="137.5" width="3" height="5" class="c"/><rect x="812" y="139" width="2" height="2" class="d"/>
<rect x="829.5" y="139.5" width="3" height="5" class="c"/><rect x="830" y="141" width="2" height="2" class="d"/>
<rect x="881.5" y="138.5" width="9" height="3" class="c"/><rect x="884" y="139" width="3" height="2" class="d"/>
<rect x="921.5" y="142.5" width="5" height="3" class="c"/><rect x="923" y="143" width="2" height="2" class="d"/>
<rect x="931.5" y="140.5" width="3" height="5" class="c"/><rect x="932" y="142" width="2" height="2" class="d"/>
<rect x="783.5" y="147.5" width="6" height="3" class="c"/><rect x="785" y="148" width="2" height="2" class="d"/>
<rect x="798.5" y="154.5" width="9" height="3" class="c"/><rect x="801" y="155" width="3" height="2" class="d"/>
<rect x="811.5" y="152.5" width="3" height="5" class="c"/><rect x="812" y="154" width="2" height="2" class="d"/>
<rect x="858.5" y="148.5" width="3" height="5" class="c"/><rect x="859" y="150" width="2" height="2" class="d"/>
<rect x="906.5" y="154.5" width="6" height="3" class="c"/><rect x="908" y="155" width="2" height="2" class="d"/>
<rect x="935.5" y="156.5" width="3" height="6" class="c"/><rect x="936" y="158" width="2" height="2" class="d"/>
<rect x="955.5" y="155.5" width="3" height="5" class="c"/><rect x="956" y="157" width="2" height="2" class="d"/>
<rect x="810.5" y="162.5" width="5" height="3" class="c"/><rect x="812" y="163" width="2" height="2" class="d"/>
<rect x="864.5" y="162.5" width="3" height="6" class="c"/><rect x="865" y="164" width="2" height="2" class="d"/>
<rect x="898.5" y="165.5" width="3" height="6" class="c"/><rect x="899" y="167" width="2" height="2" class="d"/>
<rect x="957.5" y="164.5" width="3" height="8" class="c"/><rect x="958" y="167" width="2" height="3" class="d"/>
<rect x="812.5" y="172.5" width="3" height="9" class="c"/><rect x="813" y="175" width="2" height="3" class="d"/>
<rect x="860.5" y="174.5" width="8" height="3" class="c"/><rect x="863" y="175" width="3" height="2" class="d"/>
<rect x="859.5" y="180.5" width="6" height="3" class="c"/><rect x="861" y="181" width="2" height="2" class="d"/>
<rect x="884.5" y="177.5" width="3" height="9" class="c"/><rect x="885" y="180" width="2" height="3" class="d"/>
<rect x="890.5" y="177.5" width="3" height="9" class="c"/><rect x="891" y="180" width="2" height="3" class="d"/>
<rect x="903.5" y="175.5" width="3" height="5" class="c"/><rect x="904" y="177" width="2" height="2" class="d"/>
<rect x="935.5" y="177.5" width="6" height="3" class="c"/><rect x="937" y="178" width="2" height="2" class="d"/>
<rect x="935.5" y="182.5" width="3" height="7" class="c"/><rect x="936" y="185" width="2" height="2" class="d"/>
<rect x="939.5" y="182.5" width="3" height="7" class="c"/><rect x="940" y="185" width="2" height="2" class="d"/>
<rect x="957.5" y="176.5" width="3" height="5" class="c"/><rect x="958" y="178" width="2" height="2" class="d"/>
<rect x="803.5" y="188.5" width="6" height="2" class="c"/><rect x="805" y="189" width="2" height="1" class="d"/>
<rect x="815.5" y="189.5" width="7" height="3" class="c"/><rect x="818" y="190" width="2" height="2" class="d"/>
<rect x="823.5" y="189.5" width="3" height="6" class="c"/><rect x="824" y="191" width="2" height="2" class="d"/>
<rect x="827.5" y="189.5" width="3" height="6" class="c"/><rect x="828" y="191" width="2" height="2" class="d"/>
<rect x="843.5" y="239.5" width="3" height="5" class="c"/><rect x="844" y="241" width="2" height="2" class="d"/>
<rect x="847.5" y="249.5" width="8" height="3" class="c"/><rect x="850" y="250" width="3" height="2" class="d"/>
<rect x="862.5" y="251.5" width="8" height="3" class="c"/><rect x="865" y="252" width="3" height="2" class="d"/>
<rect x="867.5" y="256.5" width="5" height="3" class="c"/><rect x="869" y="257" width="2" height="2" class="d"/>
<rect x="877.5" y="252.5" width="9" height="3" class="c"/><rect x="880" y="253" width="3" height="2" class="d"/>
<rect x="886.5" y="262.5" width="3" height="6" class="c"/><rect x="887" y="264" width="2" height="2" class="d"/>
<rect x="842.5" y="263.5" width="3" height="9" class="c"/><rect x="843" y="266" width="2" height="3" class="d"/>
<rect x="850.5" y="267.5" width="7" height="3" class="c"/><rect x="853" y="268" width="2" height="2" class="d"/>
<rect x="837.5" y="271.5" width="3" height="5" class="c"/><rect x="838" y="273" width="2" height="2" class="d"/>
<rect x="857.5" y="271.5" width="3" height="5" class="c"/><rect x="858" y="273" width="2" height="2" class="d"/>
<rect x="855.5" y="276.5" width="3" height="5" class="c"/><rect x="856" y="278" width="2" height="2" class="d"/>
<rect x="865.5" y="271.5" width="3" height="8" class="c"/><rect x="866" y="274" width="2" height="3" class="d"/>
<rect x="871.5" y="274.5" width="3" height="5" class="c"/><rect x="872" y="276" width="2" height="2" class="d"/>
<rect x="875.5" y="274.5" width="3" height="5" class="c"/><rect x="876" y="276" width="2" height="2" class="d"/>
<rect x="881.5" y="274.5" width="3" height="9" class="c"/><rect x="882" y="277" width="2" height="3" class="d"/>
<rect x="887.5" y="274.5" width="3" height="9" class="c"/><rect x="888" y="277" width="2" height="3" class="d"/>
<rect x="890.5" y="270.5" width="6" height="3" class="c"/><rect x="892" y="271" width="2" height="2" class="d"/>
<rect x="893.5" y="275.5" width="2" height="5" class="c"/><rect x="894" y="277" width="1" height="2" class="d"/>
<rect x="896.5" y="275.5" width="3" height="5" class="c"/><rect x="897" y="277" width="2" height="2" class="d"/>
<rect x="893.5" y="282.5" width="2" height="5" class="c"/><rect x="894" y="284" width="1" height="2" class="d"/>
<rect x="896.5" y="282.5" width="3" height="5" class="c"/><rect x="897" y="284" width="2" height="2" class="d"/>
<rect x="840.5" y="278.5" width="3" height="10" class="c"/><rect x="841" y="282" width="2" height="3" class="d"/>
<rect x="847.5" y="279.5" width="3" height="9" class="c"/><rect x="848" y="282" width="2" height="3" class="d"/>
<rect x="854.5" y="285.5" width="8" height="3" class="c"/><rect x="857" y="286" width="3" height="2" class="d"/>
<rect x="864.5" y="285.5" width="5" height="3" class="c"/><rect x="866" y="286" width="2" height="2" class="d"/>
<rect x="878.5" y="286.5" width="3" height="7" class="c"/><rect x="879" y="289" width="2" height="2" class="d"/>
<rect x="847.5" y="292.5" width="8" height="3" class="c"/><rect x="850" y="293" width="3" height="2" class="d"/>
<rect x="865.5" y="294.5" width="7" height="3" class="c"/><rect x="868" y="295" width="2" height="2" class="d"/>
<rect x="858.5" y="297.5" width="5" height="3" class="c"/><rect x="860" y="298" width="2" height="2" class="d"/>
<rect x="886.5" y="298.5" width="7" height="3" class="c"/><rect x="889" y="299" width="2" height="2" class="d"/>
<rect x="847.5" y="299.5" width="7" height="3" class="c"/><rect x="850" y="300" width="2" height="2" class="d"/>
<rect x="936.5" y="248.5" width="6" height="3" class="c"/><rect x="938" y="249" width="2" height="2" class="d"/>
<rect x="937.5" y="254.5" width="2" height="6" class="c"/><rect x="938" y="256" width="1" height="2" class="d"/>
<rect x="945.5" y="256.5" width="3" height="9" class="c"/><rect x="946" y="259" width="2" height="3" class="d"/>
<rect x="937.5" y="263.5" width="3" height="8" class="c"/><rect x="938" y="266" width="2" height="3" class="d"/>
<rect x="946.5" y="270.5" width="3" height="8" class="c"/><rect x="947" y="273" width="2" height="3" class="d"/>
<rect x="928.5" y="266.5" width="6" height="3" class="c"/><rect x="930" y="267" width="2" height="2" class="d"/>
<rect x="928.5" y="270.5" width="7" height="3" class="c"/><rect x="931" y="271" width="2" height="2" class="d"/>
<rect x="932.5" y="275.5" width="3" height="6" class="c"/><rect x="933" y="277" width="2" height="2" class="d"/>
<rect x="900.5" y="271.5" width="3" height="6" class="c"/><rect x="901" y="273" width="2" height="2" class="d"/>
<rect x="905.5" y="273.5" width="3" height="6" class="c"/><rect x="906" y="275" width="2" height="2" class="d"/>
<rect x="909.5" y="273.5" width="2" height="6" class="c"/><rect x="910" y="275" width="1" height="2" class="d"/>
<rect x="905.5" y="280.5" width="6" height="3" class="c"/><rect x="907" y="281" width="2" height="2" class="d"/>
<rect x="913.5" y="270.5" width="3" height="6" class="c"/><rect x="914" y="272" width="2" height="2" class="d"/>
<rect x="922.5" y="271.5" width="3" height="6" class="c"/><rect x="923" y="273" width="2" height="2" class="d"/>
<rect x="903.5" y="285.5" width="9" height="3" class="c"/><rect x="906" y="286" width="3" height="2" class="d"/>
<rect x="905.5" y="290.5" width="7" height="3" class="c"/><rect x="908" y="291" width="2" height="2" class="d"/>
<rect x="900.5" y="296.5" width="5" height="3" class="c"/><rect x="902" y="297" width="2" height="2" class="d"/>
<rect x="906.5" y="296.5" width="5" height="3" class="c"/><rect x="908" y="297" width="2" height="2" class="d"/>
<rect x="933.5" y="283.5" width="3" height="6" class="c"/><rect x="934" y="285" width="2" height="2" class="d"/>
<rect x="929.5" y="293.5" width="7" height="3" class="c"/><rect x="932" y="294" width="2" height="2" class="d"/>
<rect x="942.5" y="281.5" width="6" height="3" class="c"/><rect x="944" y="282" width="2" height="2" class="d"/>
<rect x="941.5" y="286.5" width="3" height="6" class="c"/><rect x="942" y="288" width="2" height="2" class="d"/>
<rect x="945.5" y="286.5" width="3" height="6" class="c"/><rect x="946" y="288" width="2" height="2" class="d"/>
<rect x="941.5" y="294.5" width="3" height="6" class="c"/><rect x="942" y="296" width="2" height="2" class="d"/>
<rect x="947.5" y="297.5" width="6" height="3" class="c"/><rect x="949" y="298" width="2" height="2" class="d"/>
<rect x="841.5" y="293.5" width="3" height="8" class="c"/><rect x="842" y="296" width="2" height="3" class="d"/>
<rect x="855.5" y="300.5" width="3" height="5" class="c"/><rect x="856" y="302" width="2" height="2" class="d"/>
<rect x="866.5" y="304.5" width="7" height="3" class="c"/><rect x="869" y="305" width="2" height="2" class="d"/>
<rect x="878.5" y="305.5" width="8" height="3" class="c"/><rect x="881" y="306" width="3" height="2" class="d"/>
<rect x="893.5" y="306.5" width="5" height="4" class="c"/><rect x="895" y="307" width="2" height="3" class="d"/>
<rect x="860.5" y="307.5" width="3" height="7" class="c"/><rect x="861" y="310" width="2" height="2" class="d"/>
<rect x="866.5" y="309.5" width="7" height="3" class="c"/><rect x="869" y="310" width="2" height="2" class="d"/>
<rect x="865.5" y="314.5" width="6" height="3" class="c"/><rect x="867" y="315" width="2" height="2" class="d"/>
<rect x="866.5" y="318.5" width="6" height="3" class="c"/><rect x="868" y="319" width="2" height="2" class="d"/>
<rect x="876.5" y="316.5" width="7" height="3" class="c"/><rect x="879" y="317" width="2" height="2" class="d"/>
<rect x="891.5" y="316.5" width="7" height="3" class="c"/><rect x="894" y="317" width="2" height="2" class="d"/>
<rect x="842.5" y="324.5" width="6" height="3" class="c"/><rect x="844" y="325" width="2" height="2" class="d"/>
<rect x="854.5" y="324.5" width="3" height="6" class="c"/><rect x="855" y="326" width="2" height="2" class="d"/>
<rect x="858.5" y="324.5" width="3" height="6" class="c"/><rect x="859" y="326" width="2" height="2" class="d"/>
<rect x="865.5" y="324.5" width="8" height="3" class="c"/><rect x="868" y="325" width="3" height="2" class="d"/>
<rect x="840.5" y="333.5" width="10" height="3" class="c"/><rect x="844" y="334" width="3" height="2" class="d"/>
<rect x="865.5" y="330.5" width="9" height="3" class="c"/><rect x="868" y="331" width="3" height="2" class="d"/>
<rect x="877.5" y="327.5" width="3" height="10" class="c"/><rect x="878" y="331" width="2" height="3" class="d"/>
<rect x="882.5" y="331.5" width="6" height="3" class="c"/><rect x="884" y="332" width="2" height="2" class="d"/>
<rect x="882.5" y="335.5" width="6" height="3" class="c"/><rect x="884" y="336" width="2" height="2" class="d"/>
<rect x="891.5" y="335.5" width="6" height="3" class="c"/><rect x="893" y="336" width="2" height="2" class="d"/>
<rect x="865.5" y="336.5" width="9" height="4" class="c"/><rect x="868" y="337" width="3" height="3" class="d"/>
<rect x="865.5" y="343.5" width="9" height="3" class="c"/><rect x="868" y="344" width="3" height="2" class="d"/>
<rect x="850.5" y="339.5" width="3" height="9" class="c"/><rect x="851" y="342" width="2" height="3" class="d"/>
<rect x="858.5" y="339.5" width="3" height="9" class="c"/><rect x="859" y="342" width="2" height="3" class="d"/>
<rect x="880.5" y="341.5" width="3" height="8" class="c"/><rect x="881" y="344" width="2" height="3" class="d"/>
<rect x="892.5" y="341.5" width="3" height="8" class="c"/><rect x="893" y="344" width="2" height="3" class="d"/>
<rect x="899.5" y="301.5" width="8" height="3" class="c"/><rect x="902" y="302" width="3" height="2" class="d"/>
<rect x="912.5" y="304.5" width="6" height="3" class="c"/><rect x="914" y="305" width="2" height="2" class="d"/>
<rect x="899.5" y="309.5" width="8" height="3" class="c"/><rect x="902" y="310" width="3" height="2" class="d"/>
<rect x="912.5" y="310.5" width="6" height="2" class="c"/><rect x="914" y="311" width="2" height="1" class="d"/>
<rect x="912.5" y="314.5" width="6" height="3" class="c"/><rect x="914" y="315" width="2" height="2" class="d"/>
<rect x="923.5" y="309.5" width="6" height="3" class="c"/><rect x="925" y="310" width="2" height="2" class="d"/>
<rect x="923.5" y="313.5" width="6" height="3" class="c"/><rect x="925" y="314" width="2" height="2" class="d"/>
<rect x="930.5" y="313.5" width="3" height="7" class="c"/><rect x="931" y="316" width="2" height="2" class="d"/>
<rect x="933.5" y="299.5" width="3" height="6" class="c"/><rect x="934" y="301" width="2" height="2" class="d"/>
<rect x="933.5" y="307.5" width="3" height="5" class="c"/><rect x="934" y="309" width="2" height="2" class="d"/>
<rect x="941.5" y="301.5" width="3" height="6" class="c"/><rect x="942" y="303" width="2" height="2" class="d"/>
<rect x="941.5" y="308.5" width="3" height="5" class="c"/><rect x="942" y="310" width="2" height="2" class="d"/>
<rect x="948.5" y="301.5" width="2" height="6" class="c"/><rect x="949" y="303" width="1" height="2" class="d"/>
<rect x="945.5" y="311.5" width="5" height="3" class="c"/><rect x="947" y="312" width="2" height="2" class="d"/>
<rect x="953.5" y="313.5" width="3" height="5" class="c"/><rect x="954" y="315" width="2" height="2" class="d"/>
<rect x="949.5" y="319.5" width="6" height="3" class="c"/><rect x="951" y="320" width="2" height="2" class="d"/>
<rect x="898.5" y="316.5" width="9" height="3" class="c"/><rect x="901" y="317" width="3" height="2" class="d"/>
<rect x="912.5" y="318.5" width="3" height="6" class="c"/><rect x="913" y="320" width="2" height="2" class="d"/>
<rect x="936.5" y="316.5" width="6" height="3" class="c"/><rect x="938" y="317" width="2" height="2" class="d"/>
<rect x="936.5" y="320.5" width="6" height="3" class="c"/><rect x="938" y="321" width="2" height="2" class="d"/>
<rect x="945.5" y="320.5" width="2" height="7" class="c"/><rect x="946" y="323" width="1" height="2" class="d"/>
<rect x="899.5" y="323.5" width="7" height="3" class="c"/><rect x="902" y="324" width="2" height="2" class="d"/>
<rect x="907.5" y="325.5" width="5" height="3" class="c"/><rect x="909" y="326" width="2" height="2" class="d"/>
<rect x="934.5" y="325.5" width="6" height="3" class="c"/><rect x="936" y="326" width="2" height="2" class="d"/>
<rect x="898.5" y="330.5" width="9" height="3" class="c"/><rect x="901" y="331" width="3" height="2" class="d"/>
<rect x="912.5" y="328.5" width="3" height="6" class="c"/><rect x="913" y="330" width="2" height="2" class="d"/>
<rect x="938.5" y="330.5" width="6" height="2" class="c"/><rect x="940" y="331" width="2" height="1" class="d"/>
<rect x="948.5" y="330.5" width="7" height="2" class="c"/><rect x="951" y="331" width="2" height="1" class="d"/>
<rect x="948.5" y="334.5" width="7" height="3" class="c"/><rect x="951" y="335" width="2" height="2" class="d"/>
<rect x="940.5" y="334.5" width="3" height="7" class="c"/><rect x="941" y="337" width="2" height="2" class="d"/>
<rect x="944.5" y="334.5" width="3" height="7" class="c"/><rect x="945" y="337" width="2" height="2" class="d"/>
<rect x="915.5" y="335.5" width="7" height="3" class="c"/><rect x="918" y="336" width="2" height="2" class="d"/>
<rect x="926.5" y="335.5" width="7" height="3" class="c"/><rect x="929" y="336" width="2" height="2" class="d"/>
<rect x="901.5" y="337.5" width="9" height="3" class="c"/><rect x="904" y="338" width="3" height="2" class="d"/>
<rect x="901.5" y="344.5" width="9" height="3" class="c"/><rect x="904" y="345" width="3" height="2" class="d"/>
<rect x="921.5" y="341.5" width="3" height="10" class="c"/><rect x="922" y="345" width="2" height="3" class="d"/>
<rect x="940.5" y="345.5" width="6" height="3" class="c"/><rect x="942" y="346" width="2" height="2" class="d"/>
<rect x="940.5" y="349.5" width="6" height="3" class="c"/><rect x="942" y="350" width="2" height="2" class="d"/>
<rect x="983.5" y="268.5" width="3" height="6" class="c"/><rect x="984" y="270" width="2" height="2" class="d"/>
<rect x="989.5" y="284.5" width="3" height="5" class="c"/><rect x="990" y="286" width="2" height="2" class="d"/>
<rect x="965.5" y="299.5" width="5" height="3" class="c"/><rect x="967" y="300" width="2" height="2" class="d"/>
<rect x="962.5" y="110.5" width="3" height="6" class="c"/><rect x="963" y="112" width="2" height="2" class="d"/>
<rect x="1006.5" y="110.5" width="3" height="6" class="c"/><rect x="1007" y="112" width="2" height="2" class="d"/>
<rect x="1008.5" y="146.5" width="6" height="3" class="c"/><rect x="1010" y="147" width="2" height="2" class="d"/>
<rect x="998.5" y="203.5" width="7" height="3" class="c"/><rect x="1001" y="204" width="2" height="2" class="d"/>
<rect x="1024.5" y="205.5" width="9" height="3" class="c"/><rect x="1027" y="206" width="3" height="2" class="d"/>
<rect x="423.5" y="442.5" width="9" height="3" class="c"/><rect x="426" y="443" width="3" height="2" class="d"/>
<rect x="469.5" y="479.5" width="3" height="7" class="c"/><rect x="470" y="482" width="2" height="2" class="d"/>
<rect x="499.5" y="483.5" width="3" height="6" class="c"/><rect x="500" y="485" width="2" height="2" class="d"/>
<rect x="474.5" y="493.5" width="3" height="7" class="c"/><rect x="475" y="496" width="2" height="2" class="d"/>
<rect x="372.5" y="507.5" width="3" height="6" class="c"/><rect x="373" y="509" width="2" height="2" class="d"/>
<rect x="409.5" y="509.5" width="6" height="3" class="c"/><rect x="411" y="510" width="2" height="2" class="d"/>
<rect x="495.5" y="525.5" width="10" height="3" class="c"/><rect x="499" y="526" width="3" height="2" class="d"/>
<rect x="525.5" y="528.5" width="6" height="2" class="c"/><rect x="527" y="529" width="2" height="1" class="d"/>
<rect x="379.5" y="534.5" width="6" height="3" class="c"/><rect x="381" y="535" width="2" height="2" class="d"/>
<rect x="430.5" y="535.5" width="6" height="3" class="c"/><rect x="432" y="536" width="2" height="2" class="d"/>
<rect x="358.5" y="558.5" width="3" height="6" class="c"/><rect x="359" y="560" width="2" height="2" class="d"/>
<rect x="465.5" y="573.5" width="7" height="3" class="c"/><rect x="468" y="574" width="2" height="2" class="d"/>
<rect x="365.5" y="591.5" width="6" height="3" class="c"/><rect x="367" y="592" width="2" height="2" class="d"/>
<rect x="373.5" y="591.5" width="7" height="3" class="c"/><rect x="376" y="592" width="2" height="2" class="d"/>
<rect x="381.5" y="591.5" width="7" height="3" class="c"/><rect x="384" y="592" width="2" height="2" class="d"/>
<rect x="390.5" y="591.5" width="6" height="3" class="c"/><rect x="392" y="592" width="2" height="2" class="d"/>
<rect x="365.5" y="595.5" width="6" height="3" class="c"/><rect x="367" y="596" width="2" height="2" class="d"/>
<rect x="365.5" y="600.5" width="6" height="2" class="c"/><rect x="367" y="601" width="2" height="1" class="d"/>
<rect x="373.5" y="595.5" width="7" height="3" class="c"/><rect x="376" y="596" width="2" height="2" class="d"/>
<rect x="373.5" y="600.5" width="7" height="2" class="c"/><rect x="376" y="601" width="2" height="1" class="d"/>
<rect x="359.5" y="596.5" width="3" height="6" class="c"/><rect x="360" y="598" width="2" height="2" class="d"/>
<rect x="478.5" y="590.5" width="3" height="7" class="c"/><rect x="479" y="593" width="2" height="2" class="d"/>
<rect x="482.5" y="590.5" width="3" height="7" class="c"/><rect x="483" y="593" width="2" height="2" class="d"/>
<rect x="486.5" y="590.5" width="3" height="7" class="c"/><rect x="487" y="593" width="2" height="2" class="d"/>
<rect x="492.5" y="590.5" width="3" height="7" class="c"/><rect x="493" y="593" width="2" height="2" class="d"/>
<rect x="496.5" y="590.5" width="3" height="7" class="c"/><rect x="497" y="593" width="2" height="2" class="d"/>
<rect x="501.5" y="590.5" width="3" height="6" class="c"/><rect x="502" y="592" width="2" height="2" class="d"/>
<rect x="478.5" y="598.5" width="3" height="7" class="c"/><rect x="479" y="601" width="2" height="2" class="d"/>
<rect x="482.5" y="598.5" width="3" height="7" class="c"/><rect x="483" y="601" width="2" height="2" class="d"/>
<rect x="486.5" y="598.5" width="3" height="7" class="c"/><rect x="487" y="601" width="2" height="2" class="d"/>
<rect x="492.5" y="598.5" width="3" height="7" class="c"/><rect x="493" y="601" width="2" height="2" class="d"/>
<rect x="496.5" y="598.5" width="3" height="7" class="c"/><rect x="497" y="601" width="2" height="2" class="d"/>
<rect x="501.5" y="598.5" width="3" height="6" class="c"/><rect x="502" y="600" width="2" height="2" class="d"/>
<rect x="507.5" y="598.5" width="3" height="7" class="c"/><rect x="508" y="601" width="2" height="2" class="d"/>
<rect x="518.5" y="606.5" width="3" height="5" class="c"/><rect x="519" y="608" width="2" height="2" class="d"/>
<rect x="522.5" y="605.5" width="3" height="6" class="c"/><rect x="523" y="607" width="2" height="2" class="d"/>
<rect x="483.5" y="618.5" width="3" height="7" class="c"/><rect x="484" y="621" width="2" height="2" class="d"/>
<rect x="483.5" y="627.5" width="3" height="7" class="c"/><rect x="484" y="630" width="2" height="2" class="d"/>
<rect x="491.5" y="618.5" width="3" height="7" class="c"/><rect x="492" y="621" width="2" height="2" class="d"/>
<rect x="491.5" y="627.5" width="3" height="7" class="c"/><rect x="492" y="630" width="2" height="2" class="d"/>
<rect x="498.5" y="618.5" width="3" height="7" class="c"/><rect x="499" y="621" width="2" height="2" class="d"/>
<rect x="498.5" y="627.5" width="3" height="7" class="c"/><rect x="499" y="630" width="2" height="2" class="d"/>
<rect x="505.5" y="618.5" width="3" height="7" class="c"/><rect x="506" y="621" width="2" height="2" class="d"/>
<rect x="505.5" y="627.5" width="3" height="7" class="c"/><rect x="506" y="630" width="2" height="2" class="d"/>
<rect x="566.5" y="477.5" width="6" height="3" class="c"/><rect x="568" y="478" width="2" height="2" class="d"/>
<rect x="582.5" y="476.5" width="6" height="3" class="c"/><rect x="584" y="477" width="2" height="2" class="d"/>
<rect x="542.5" y="483.5" width="3" height="6" class="c"/><rect x="543" y="485" width="2" height="2" class="d"/>
<rect x="615.5" y="482.5" width="6" height="3" class="c"/><rect x="617" y="483" width="2" height="2" class="d"/>
<rect x="639.5" y="483.5" width="10" height="3" class="c"/><rect x="643" y="484" width="3" height="2" class="d"/>
<rect x="662.5" y="480.5" width="3" height="7" class="c"/><rect x="663" y="483" width="2" height="2" class="d"/>
<rect x="672.5" y="490.5" width="10" height="3" class="c"/><rect x="676" y="491" width="3" height="2" class="d"/>
<rect x="686.5" y="483.5" width="3" height="6" class="c"/><rect x="687" y="485" width="2" height="2" class="d"/>
<rect x="709.5" y="482.5" width="6" height="3" class="c"/><rect x="711" y="483" width="2" height="2" class="d"/>
<rect x="556.5" y="495.5" width="6" height="3" class="c"/><rect x="558" y="496" width="2" height="2" class="d"/>
<rect x="556.5" y="499.5" width="6" height="3" class="c"/><rect x="558" y="500" width="2" height="2" class="d"/>
<rect x="658.5" y="496.5" width="3" height="10" class="c"/><rect x="659" y="500" width="2" height="3" class="d"/>
<rect x="567.5" y="517.5" width="3" height="6" class="c"/><rect x="568" y="519" width="2" height="2" class="d"/>
<rect x="574.5" y="517.5" width="3" height="6" class="c"/><rect x="575" y="519" width="2" height="2" class="d"/>
<rect x="614.5" y="515.5" width="3" height="7" class="c"/><rect x="615" y="518" width="2" height="2" class="d"/>
<rect x="623.5" y="509.5" width="3" height="10" class="c"/><rect x="624" y="513" width="2" height="3" class="d"/>
<rect x="634.5" y="509.5" width="3" height="10" class="c"/><rect x="635" y="513" width="2" height="3" class="d"/>
<rect x="658.5" y="512.5" width="3" height="7" class="c"/><rect x="659" y="515" width="2" height="2" class="d"/>
<rect x="652.5" y="521.5" width="7" height="3" class="c"/><rect x="655" y="522" width="2" height="2" class="d"/>
<rect x="651.5" y="526.5" width="9" height="3" class="c"/><rect x="654" y="527" width="3" height="2" class="d"/>
<rect x="665.5" y="527.5" width="6" height="3" class="c"/><rect x="667" y="528" width="2" height="2" class="d"/>
<rect x="709.5" y="517.5" width="3" height="6" class="c"/><rect x="710" y="519" width="2" height="2" class="d"/>
<rect x="543.5" y="527.5" width="7" height="3" class="c"/><rect x="546" y="528" width="2" height="2" class="d"/>
<rect x="589.5" y="525.5" width="3" height="6" class="c"/><rect x="590" y="527" width="2" height="2" class="d"/>
<rect x="608.5" y="523.5" width="3" height="6" class="c"/><rect x="609" y="525" width="2" height="2" class="d"/>
<rect x="575.5" y="528.5" width="3" height="10" class="c"/><rect x="576" y="532" width="2" height="3" class="d"/>
<rect x="588.5" y="534.5" width="3" height="10" class="c"/><rect x="589" y="538" width="2" height="3" class="d"/>
<rect x="603.5" y="536.5" width="10" height="3" class="c"/><rect x="607" y="537" width="3" height="2" class="d"/>
<rect x="564.5" y="541.5" width="6" height="3" class="c"/><rect x="566" y="542" width="2" height="2" class="d"/>
<rect x="564.5" y="545.5" width="6" height="3" class="c"/><rect x="566" y="546" width="2" height="2" class="d"/>
<rect x="620.5" y="554.5" width="6" height="3" class="c"/><rect x="622" y="555" width="2" height="2" class="d"/>
<rect x="642.5" y="554.5" width="3" height="6" class="c"/><rect x="643" y="556" width="2" height="2" class="d"/>
<rect x="709.5" y="570.5" width="6" height="3" class="c"/><rect x="711" y="571" width="2" height="2" class="d"/>
<rect x="572.5" y="567.5" width="3" height="6" class="c"/><rect x="573" y="569" width="2" height="2" class="d"/>
<rect x="590.5" y="566.5" width="3" height="6" class="c"/><rect x="591" y="568" width="2" height="2" class="d"/>
<rect x="605.5" y="566.5" width="3" height="6" class="c"/><rect x="606" y="568" width="2" height="2" class="d"/>
<rect x="618.5" y="566.5" width="3" height="6" class="c"/><rect x="619" y="568" width="2" height="2" class="d"/>
<rect x="537.5" y="576.5" width="3" height="6" class="c"/><rect x="538" y="578" width="2" height="2" class="d"/>
<rect x="529.5" y="582.5" width="6" height="2" class="c"/><rect x="531" y="583" width="2" height="1" class="d"/>
<rect x="532.5" y="586.5" width="6" height="3" class="c"/><rect x="534" y="587" width="2" height="2" class="d"/>
<rect x="541.5" y="582.5" width="3" height="6" class="c"/><rect x="542" y="584" width="2" height="2" class="d"/>
<rect x="546.5" y="582.5" width="3" height="6" class="c"/><rect x="547" y="584" width="2" height="2" class="d"/>
<rect x="550.5" y="582.5" width="3" height="6" class="c"/><rect x="551" y="584" width="2" height="2" class="d"/>
<rect x="563.5" y="577.5" width="3" height="10" class="c"/><rect x="564" y="581" width="2" height="3" class="d"/>
<rect x="582.5" y="577.5" width="3" height="10" class="c"/><rect x="583" y="581" width="2" height="3" class="d"/>
<rect x="590.5" y="577.5" width="3" height="10" class="c"/><rect x="591" y="581" width="2" height="3" class="d"/>
<rect x="605.5" y="577.5" width="3" height="10" class="c"/><rect x="606" y="581" width="2" height="3" class="d"/>
<rect x="618.5" y="577.5" width="3" height="10" class="c"/><rect x="619" y="581" width="2" height="3" class="d"/>
<rect x="625.5" y="577.5" width="3" height="10" class="c"/><rect x="626" y="581" width="2" height="3" class="d"/>
<rect x="637.5" y="576.5" width="7" height="3" class="c"/><rect x="640" y="577" width="2" height="2" class="d"/>
<rect x="646.5" y="579.5" width="6" height="3" class="c"/><rect x="648" y="580" width="2" height="2" class="d"/>
<rect x="655.5" y="580.5" width="3" height="6" class="c"/><rect x="656" y="582" width="2" height="2" class="d"/>
<rect x="661.5" y="578.5" width="7" height="3" class="c"/><rect x="664" y="579" width="2" height="2" class="d"/>
<rect x="643.5" y="584.5" width="9" height="3" class="c"/><rect x="646" y="585" width="3" height="2" class="d"/>
<rect x="631.5" y="586.5" width="3" height="6" class="c"/><rect x="632" y="588" width="2" height="2" class="d"/>
<rect x="636.5" y="589.5" width="6" height="3" class="c"/><rect x="638" y="590" width="2" height="2" class="d"/>
<rect x="644.5" y="589.5" width="6" height="3" class="c"/><rect x="646" y="590" width="2" height="2" class="d"/>
<rect x="651.5" y="590.5" width="3" height="6" class="c"/><rect x="652" y="592" width="2" height="2" class="d"/>
<rect x="656.5" y="590.5" width="3" height="6" class="c"/><rect x="657" y="592" width="2" height="2" class="d"/>
<rect x="660.5" y="584.5" width="3" height="7" class="c"/><rect x="661" y="587" width="2" height="2" class="d"/>
<rect x="545.5" y="596.5" width="6" height="3" class="c"/><rect x="547" y="597" width="2" height="2" class="d"/>
<rect x="573.5" y="594.5" width="3" height="6" class="c"/><rect x="574" y="596" width="2" height="2" class="d"/>
<rect x="591.5" y="594.5" width="3" height="6" class="c"/><rect x="592" y="596" width="2" height="2" class="d"/>
<rect x="598.5" y="594.5" width="3" height="6" class="c"/><rect x="599" y="596" width="2" height="2" class="d"/>
<rect x="602.5" y="594.5" width="3" height="6" class="c"/><rect x="603" y="596" width="2" height="2" class="d"/>
<rect x="608.5" y="593.5" width="3" height="6" class="c"/><rect x="609" y="595" width="2" height="2" class="d"/>
<rect x="612.5" y="593.5" width="7" height="3" class="c"/><rect x="615" y="594" width="2" height="2" class="d"/>
<rect x="612.5" y="597.5" width="7" height="2" class="c"/><rect x="615" y="598" width="2" height="1" class="d"/>
<rect x="621.5" y="597.5" width="3" height="7" class="c"/><rect x="622" y="600" width="2" height="2" class="d"/>
<rect x="626.5" y="599.5" width="6" height="3" class="c"/><rect x="628" y="600" width="2" height="2" class="d"/>
<rect x="634.5" y="599.5" width="6" height="3" class="c"/><rect x="636" y="600" width="2" height="2" class="d"/>
<rect x="641.5" y="599.5" width="7" height="3" class="c"/><rect x="644" y="600" width="2" height="2" class="d"/>
<rect x="644.5" y="603.5" width="6" height="3" class="c"/><rect x="646" y="604" width="2" height="2" class="d"/>
<rect x="671.5" y="595.5" width="3" height="6" class="c"/><rect x="672" y="597" width="2" height="2" class="d"/>
<rect x="681.5" y="595.5" width="3" height="6" class="c"/><rect x="682" y="597" width="2" height="2" class="d"/>
<rect x="685.5" y="595.5" width="3" height="6" class="c"/><rect x="686" y="597" width="2" height="2" class="d"/>
<rect x="608.5" y="601.5" width="6" height="4" class="c"/><rect x="610" y="602" width="2" height="3" class="d"/>
<rect x="608.5" y="606.5" width="6" height="3" class="c"/><rect x="610" y="607" width="2" height="2" class="d"/>
<rect x="654.5" y="601.5" width="6" height="3" class="c"/><rect x="656" y="602" width="2" height="2" class="d"/>
<rect x="654.5" y="605.5" width="6" height="4" class="c"/><rect x="656" y="606" width="2" height="3" class="d"/>
<rect x="654.5" y="610.5" width="6" height="3" class="c"/><rect x="656" y="611" width="2" height="2" class="d"/>
<rect x="654.5" y="614.5" width="6" height="3" class="c"/><rect x="656" y="615" width="2" height="2" class="d"/>
<rect x="654.5" y="618.5" width="6" height="3" class="c"/><rect x="656" y="619" width="2" height="2" class="d"/>
<rect x="654.5" y="622.5" width="6" height="3" class="c"/><rect x="656" y="623" width="2" height="2" class="d"/>
<rect x="691.5" y="603.5" width="6" height="3" class="c"/><rect x="693" y="604" width="2" height="2" class="d"/>
<rect x="691.5" y="607.5" width="6" height="3" class="c"/><rect x="693" y="608" width="2" height="2" class="d"/>
<rect x="691.5" y="611.5" width="6" height="3" class="c"/><rect x="693" y="612" width="2" height="2" class="d"/>
<rect x="691.5" y="623.5" width="7" height="3" class="c"/><rect x="694" y="624" width="2" height="2" class="d"/>
<rect x="651.5" y="627.5" width="3" height="7" class="c"/><rect x="652" y="630" width="2" height="2" class="d"/>
<rect x="656.5" y="627.5" width="3" height="7" class="c"/><rect x="657" y="630" width="2" height="2" class="d"/>
<rect x="602.5" y="646.5" width="3" height="5" class="c"/><rect x="603" y="648" width="2" height="2" class="d"/>
<rect x="608.5" y="614.5" width="6" height="3" class="c"/><rect x="610" y="615" width="2" height="2" class="d"/>
<rect x="608.5" y="618.5" width="6" height="3" class="c"/><rect x="610" y="619" width="2" height="2" class="d"/>
<rect x="608.5" y="622.5" width="6" height="3" class="c"/><rect x="610" y="623" width="2" height="2" class="d"/>
<rect x="608.5" y="629.5" width="7" height="3" class="c"/><rect x="611" y="630" width="2" height="2" class="d"/>
<rect x="608.5" y="634.5" width="7" height="2" class="c"/><rect x="611" y="635" width="2" height="1" class="d"/>
<rect x="608.5" y="638.5" width="7" height="3" class="c"/><rect x="611" y="639" width="2" height="2" class="d"/>
<rect x="616.5" y="634.5" width="3" height="6" class="c"/><rect x="617" y="636" width="2" height="2" class="d"/>
<rect x="621.5" y="634.5" width="3" height="6" class="c"/><rect x="622" y="636" width="2" height="2" class="d"/>
<rect x="528.5" y="609.5" width="4" height="2" class="c"/><rect x="529" y="610" width="2" height="1" class="d"/>
<rect x="534.5" y="605.5" width="3" height="7" class="c"/><rect x="535" y="608" width="2" height="2" class="d"/>
<rect x="529.5" y="628.5" width="6" height="3" class="c"/><rect x="531" y="629" width="2" height="2" class="d"/>
<rect x="567.5" y="647.5" width="3" height="6" class="c"/><rect x="568" y="649" width="2" height="2" class="d"/>
<rect x="571.5" y="647.5" width="3" height="6" class="c"/><rect x="572" y="649" width="2" height="2" class="d"/>
<rect x="576.5" y="647.5" width="3" height="6" class="c"/><rect x="577" y="649" width="2" height="2" class="d"/>
<rect x="580.5" y="649.5" width="3" height="6" class="c"/><rect x="581" y="651" width="2" height="2" class="d"/>
<rect x="584.5" y="649.5" width="3" height="6" class="c"/><rect x="585" y="651" width="2" height="2" class="d"/>
<rect x="602.5" y="646.5" width="3" height="6" class="c"/><rect x="603" y="648" width="2" height="2" class="d"/>
<rect x="720.5" y="476.5" width="3" height="10" class="c"/><rect x="721" y="480" width="2" height="3" class="d"/>
<rect x="746.5" y="477.5" width="7" height="3" class="c"/><rect x="749" y="478" width="2" height="2" class="d"/>
<rect x="746.5" y="481.5" width="7" height="3" class="c"/><rect x="749" y="482" width="2" height="2" class="d"/>
<rect x="746.5" y="486.5" width="7" height="3" class="c"/><rect x="749" y="487" width="2" height="2" class="d"/>
<rect x="744.5" y="491.5" width="10" height="3" class="c"/><rect x="748" y="492" width="3" height="2" class="d"/>
<rect x="746.5" y="497.5" width="6" height="2" class="c"/><rect x="748" y="498" width="2" height="1" class="d"/>
<rect x="765.5" y="480.5" width="3" height="10" class="c"/><rect x="766" y="484" width="2" height="3" class="d"/>
<rect x="771.5" y="480.5" width="3" height="6" class="c"/><rect x="772" y="482" width="2" height="2" class="d"/>
<rect x="776.5" y="480.5" width="3" height="8" class="c"/><rect x="777" y="483" width="2" height="3" class="d"/>
<rect x="782.5" y="473.5" width="3" height="6" class="c"/><rect x="783" y="475" width="2" height="2" class="d"/>
<rect x="783.5" y="481.5" width="6" height="2" class="c"/><rect x="785" y="482" width="2" height="1" class="d"/>
<rect x="783.5" y="487.5" width="6" height="3" class="c"/><rect x="785" y="488" width="2" height="2" class="d"/>
<rect x="783.5" y="491.5" width="6" height="3" class="c"/><rect x="785" y="492" width="2" height="2" class="d"/>
<rect x="791.5" y="488.5" width="3" height="6" class="c"/><rect x="792" y="490" width="2" height="2" class="d"/>
<rect x="792.5" y="505.5" width="3" height="9" class="c"/><rect x="793" y="508" width="2" height="3" class="d"/>
<rect x="746.5" y="505.5" width="3" height="6" class="c"/><rect x="747" y="507" width="2" height="2" class="d"/>
<rect x="743.5" y="515.5" width="3" height="7" class="c"/><rect x="744" y="518" width="2" height="2" class="d"/>
<rect x="747.5" y="515.5" width="3" height="7" class="c"/><rect x="748" y="518" width="2" height="2" class="d"/>
<rect x="752.5" y="515.5" width="3" height="9" class="c"/><rect x="753" y="518" width="2" height="3" class="d"/>
<rect x="739.5" y="524.5" width="7" height="3" class="c"/><rect x="742" y="525" width="2" height="2" class="d"/>
<rect x="748.5" y="526.5" width="3" height="6" class="c"/><rect x="749" y="528" width="2" height="2" class="d"/>
<rect x="752.5" y="526.5" width="3" height="6" class="c"/><rect x="753" y="528" width="2" height="2" class="d"/>
<rect x="747.5" y="533.5" width="6" height="3" class="c"/><rect x="749" y="534" width="2" height="2" class="d"/>
<rect x="748.5" y="538.5" width="6" height="3" class="c"/><rect x="750" y="539" width="2" height="2" class="d"/>
<rect x="748.5" y="542.5" width="6" height="3" class="c"/><rect x="750" y="543" width="2" height="2" class="d"/>
<rect x="725.5" y="535.5" width="6" height="3" class="c"/><rect x="727" y="536" width="2" height="2" class="d"/>
<rect x="769.5" y="512.5" width="7" height="3" class="c"/><rect x="772" y="513" width="2" height="2" class="d"/>
<rect x="769.5" y="517.5" width="7" height="3" class="c"/><rect x="772" y="518" width="2" height="2" class="d"/>
<rect x="767.5" y="522.5" width="11" height="3" class="c"/><rect x="769" y="523" width="8" height="2" class="d"/>
<rect x="767.5" y="528.5" width="11" height="3" class="c"/><rect x="769" y="529" width="8" height="2" class="d"/>
<rect x="780.5" y="521.5" width="3" height="9" class="c"/><rect x="781" y="524" width="2" height="3" class="d"/>
<rect x="785.5" y="520.5" width="3" height="7" class="c"/><rect x="786" y="523" width="2" height="2" class="d"/>
<rect x="790.5" y="520.5" width="3" height="7" class="c"/><rect x="791" y="523" width="2" height="2" class="d"/>
<rect x="794.5" y="520.5" width="6" height="3" class="c"/><rect x="796" y="521" width="2" height="2" class="d"/>
<rect x="818.5" y="558.5" width="3" height="6" class="c"/><rect x="819" y="560" width="2" height="2" class="d"/>
<rect x="735.5" y="563.5" width="6" height="3" class="c"/><rect x="737" y="564" width="2" height="2" class="d"/>
<rect x="739.5" y="570.5" width="8" height="3" class="c"/><rect x="742" y="571" width="3" height="2" class="d"/>
<rect x="748.5" y="567.5" width="3" height="6" class="c"/><rect x="749" y="569" width="2" height="2" class="d"/>
<rect x="752.5" y="567.5" width="3" height="6" class="c"/><rect x="753" y="569" width="2" height="2" class="d"/>
<rect x="739.5" y="578.5" width="8" height="3" class="c"/><rect x="742" y="579" width="3" height="2" class="d"/>
<rect x="739.5" y="585.5" width="7" height="2" class="c"/><rect x="742" y="586" width="2" height="1" class="d"/>
<rect x="748.5" y="578.5" width="4" height="7" class="c"/><rect x="749" y="581" width="3" height="2" class="d"/>
<rect x="753.5" y="578.5" width="3" height="7" class="c"/><rect x="754" y="581" width="2" height="2" class="d"/>
<rect x="759.5" y="578.5" width="3" height="7" class="c"/><rect x="760" y="581" width="2" height="2" class="d"/>
<rect x="819.5" y="595.5" width="3" height="6" class="c"/><rect x="820" y="597" width="2" height="2" class="d"/>
<rect x="824.5" y="599.5" width="3" height="6" class="c"/><rect x="825" y="601" width="2" height="2" class="d"/>
<rect x="829.5" y="593.5" width="3" height="9" class="c"/><rect x="830" y="596" width="2" height="3" class="d"/>
<rect x="819.5" y="609.5" width="3" height="6" class="c"/><rect x="820" y="611" width="2" height="2" class="d"/>
<rect x="824.5" y="607.5" width="3" height="6" class="c"/><rect x="825" y="609" width="2" height="2" class="d"/>
<rect x="819.5" y="618.5" width="3" height="6" class="c"/><rect x="820" y="620" width="2" height="2" class="d"/>
<rect x="824.5" y="618.5" width="3" height="6" class="c"/><rect x="825" y="620" width="2" height="2" class="d"/>
<rect x="817.5" y="638.5" width="6" height="3" class="c"/><rect x="819" y="639" width="2" height="2" class="d"/>
<rect x="954.5" y="401.5" width="3" height="6" class="c"/><rect x="955" y="403" width="2" height="2" class="d"/>
<rect x="956.5" y="409.5" width="9" height="3" class="c"/><rect x="959" y="410" width="3" height="2" class="d"/>
<rect x="957.5" y="414.5" width="7" height="3" class="c"/><rect x="960" y="415" width="2" height="2" class="d"/>
<rect x="972.5" y="414.5" width="3" height="6" class="c"/><rect x="973" y="416" width="2" height="2" class="d"/>
<rect x="974.5" y="421.5" width="7" height="3" class="c"/><rect x="977" y="422" width="2" height="2" class="d"/>
<rect x="974.5" y="426.5" width="7" height="3" class="c"/><rect x="977" y="427" width="2" height="2" class="d"/>
<rect x="963.5" y="430.5" width="6" height="3" class="c"/><rect x="965" y="431" width="2" height="2" class="d"/>
<rect x="950.5" y="441.5" width="3" height="8" class="c"/><rect x="951" y="444" width="2" height="3" class="d"/>
<rect x="956.5" y="441.5" width="4" height="8" class="c"/><rect x="957" y="444" width="3" height="3" class="d"/>
<rect x="979.5" y="441.5" width="3" height="7" class="c"/><rect x="980" y="444" width="2" height="2" class="d"/>
<rect x="984.5" y="493.5" width="6" height="3" class="c"/><rect x="986" y="494" width="2" height="2" class="d"/>
<rect x="984.5" y="497.5" width="6" height="3" class="c"/><rect x="986" y="498" width="2" height="2" class="d"/>
<rect x="992.5" y="493.5" width="3" height="7" class="c"/><rect x="993" y="496" width="2" height="2" class="d"/>
<rect x="999.5" y="493.5" width="3" height="7" class="c"/><rect x="1000" y="496" width="2" height="2" class="d"/>
<rect x="1003.5" y="493.5" width="3" height="7" class="c"/><rect x="1004" y="496" width="2" height="2" class="d"/>
<rect x="1008.5" y="493.5" width="3" height="7" class="c"/><rect x="1009" y="496" width="2" height="2" class="d"/>
<rect x="945.5" y="529.5" width="6" height="2" class="c"/><rect x="947" y="530" width="2" height="1" class="d"/>
<rect x="932.5" y="533.5" width="3" height="6" class="c"/><rect x="933" y="535" width="2" height="2" class="d"/>
<rect x="936.5" y="533.5" width="3" height="6" class="c"/><rect x="937" y="535" width="2" height="2" class="d"/>
<rect x="940.5" y="533.5" width="3" height="6" class="c"/><rect x="941" y="535" width="2" height="2" class="d"/>
<rect x="944.5" y="533.5" width="3" height="6" class="c"/><rect x="945" y="535" width="2" height="2" class="d"/>
<rect x="948.5" y="533.5" width="3" height="6" class="c"/><rect x="949" y="535" width="2" height="2" class="d"/>
<rect x="929.5" y="545.5" width="7" height="3" class="c"/><rect x="932" y="546" width="2" height="2" class="d"/>
<rect x="929.5" y="549.5" width="7" height="3" class="c"/><rect x="932" y="550" width="2" height="2" class="d"/>
<rect x="939.5" y="558.5" width="3" height="6" class="c"/><rect x="940" y="560" width="2" height="2" class="d"/>
<rect x="943.5" y="558.5" width="4" height="6" class="c"/><rect x="944" y="560" width="3" height="2" class="d"/>
<rect x="951.5" y="640.5" width="10" height="3" class="c"/><rect x="955" y="641" width="3" height="2" class="d"/>
<rect x="965.5" y="640.5" width="10" height="3" class="c"/><rect x="969" y="641" width="3" height="2" class="d"/>
<rect x="953.5" y="645.5" width="6" height="3" class="c"/><rect x="955" y="646" width="2" height="2" class="d"/>
<rect x="967.5" y="645.5" width="6" height="3" class="c"/><rect x="969" y="646" width="2" height="2" class="d"/>
<rect x="952.5" y="650.5" width="9" height="4" class="c"/><rect x="955" y="651" width="3" height="3" class="d"/>
<rect x="965.5" y="650.5" width="10" height="4" class="c"/><rect x="969" y="651" width="3" height="3" class="d"/>
<rect x="959.5" y="656.5" width="6" height="3" class="c"/><rect x="961" y="657" width="2" height="2" class="d"/>
<rect x="967.5" y="656.5" width="6" height="3" class="c"/><rect x="969" y="657" width="2" height="2" class="d"/>
<rect x="944.5" y="651.5" width="3" height="7" class="c"/><rect x="945" y="654" width="2" height="2" class="d"/>
<rect x="1145.5" y="341.5" width="3" height="14" class="c"/><rect x="1146" y="343" width="2" height="10" class="d"/>
<rect x="1179.5" y="342.5" width="3" height="14" class="c"/><rect x="1180" y="344" width="2" height="10" class="d"/>
<rect x="1236.5" y="342.5" width="3" height="14" class="c"/><rect x="1237" y="344" width="2" height="10" class="d"/>
<rect x="1285.5" y="340.5" width="3" height="14" class="c"/><rect x="1286" y="342" width="2" height="10" class="d"/>
<rect x="1297.5" y="340.5" width="3" height="14" class="c"/><rect x="1298" y="342" width="2" height="10" class="d"/>
<rect x="1331.5" y="341.5" width="3" height="14" class="c"/><rect x="1332" y="343" width="2" height="10" class="d"/>
<rect x="1349.5" y="453.5" width="14" height="3" class="c"/><rect x="1351" y="454" width="10" height="2" class="d"/>
<rect x="1350.5" y="492.5" width="14" height="3" class="c"/><rect x="1352" y="493" width="10" height="2" class="d"/>
<rect x="1156.5" y="458.5" width="14" height="3" class="c"/><rect x="1158" y="459" width="10" height="2" class="d"/>
<rect x="1540.5" y="185.5" width="6" height="2" class="c"/><rect x="1542" y="186" width="2" height="1" class="d"/>
<rect x="1540.5" y="189.5" width="6" height="2" class="c"/><rect x="1542" y="190" width="2" height="1" class="d"/>
<rect x="1548.5" y="187.5" width="3" height="6" class="c"/><rect x="1549" y="189" width="2" height="2" class="d"/>
<rect x="1471.5" y="278.5" width="6" height="3" class="c"/><rect x="1473" y="279" width="2" height="2" class="d"/>
<rect x="1471.5" y="283.5" width="6" height="2" class="c"/><rect x="1473" y="284" width="2" height="1" class="d"/>
<rect x="1478.5" y="275.5" width="3" height="6" class="c"/><rect x="1479" y="277" width="2" height="2" class="d"/>
<rect x="1478.5" y="282.5" width="3" height="7" class="c"/><rect x="1479" y="285" width="2" height="2" class="d"/>
<rect x="1482.5" y="276.5" width="3" height="5" class="c"/><rect x="1483" y="278" width="2" height="2" class="d"/>
<rect x="1482.5" y="282.5" width="3" height="5" class="c"/><rect x="1483" y="284" width="2" height="2" class="d"/>
<rect x="1450.5" y="302.5" width="6" height="3" class="c"/><rect x="1452" y="303" width="2" height="2" class="d"/>
<rect x="1458.5" y="302.5" width="6" height="3" class="c"/><rect x="1460" y="303" width="2" height="2" class="d"/>
<rect x="1450.5" y="307.5" width="3" height="6" class="c"/><rect x="1451" y="309" width="2" height="2" class="d"/>
<rect x="1450.5" y="315.5" width="3" height="6" class="c"/><rect x="1451" y="317" width="2" height="2" class="d"/>
<rect x="1455.5" y="310.5" width="2" height="6" class="c"/><rect x="1456" y="312" width="1" height="2" class="d"/>
<rect x="1459.5" y="310.5" width="3" height="6" class="c"/><rect x="1460" y="312" width="2" height="2" class="d"/>
<rect x="1464.5" y="310.5" width="3" height="6" class="c"/><rect x="1465" y="312" width="2" height="2" class="d"/>
<rect x="1468.5" y="314.5" width="6" height="2" class="c"/><rect x="1470" y="315" width="2" height="1" class="d"/>
<rect x="1479.5" y="319.5" width="6" height="3" class="c"/><rect x="1481" y="320" width="2" height="2" class="d"/>
<rect x="1479.5" y="323.5" width="6" height="3" class="c"/><rect x="1481" y="324" width="2" height="2" class="d"/>
<rect x="1479.5" y="328.5" width="6" height="2" class="c"/><rect x="1481" y="329" width="2" height="1" class="d"/>
<rect x="1479.5" y="332.5" width="6" height="2" class="c"/><rect x="1481" y="333" width="2" height="1" class="d"/>
<rect x="1453.5" y="345.5" width="3" height="7" class="c"/><rect x="1454" y="348" width="2" height="2" class="d"/>
<rect x="1458.5" y="343.5" width="3" height="7" class="c"/><rect x="1459" y="346" width="2" height="2" class="d"/>
<rect x="1463.5" y="343.5" width="3" height="6" class="c"/><rect x="1464" y="345" width="2" height="2" class="d"/>
<rect x="1463.5" y="352.5" width="3" height="6" class="c"/><rect x="1464" y="354" width="2" height="2" class="d"/>
<rect x="1467.5" y="343.5" width="3" height="6" class="c"/><rect x="1468" y="345" width="2" height="2" class="d"/>
<rect x="1467.5" y="352.5" width="3" height="6" class="c"/><rect x="1468" y="354" width="2" height="2" class="d"/>
<rect x="1471.5" y="343.5" width="3" height="6" class="c"/><rect x="1472" y="345" width="2" height="2" class="d"/>
<rect x="1471.5" y="352.5" width="3" height="6" class="c"/><rect x="1472" y="354" width="2" height="2" class="d"/>
<rect x="1467.5" y="371.5" width="6" height="3" class="c"/><rect x="1469" y="372" width="2" height="2" class="d"/>
<rect x="1475.5" y="371.5" width="6" height="3" class="c"/><rect x="1477" y="372" width="2" height="2" class="d"/>
<rect x="1467.5" y="376.5" width="6" height="3" class="c"/><rect x="1469" y="377" width="2" height="2" class="d"/>
<rect x="1475.5" y="376.5" width="6" height="3" class="c"/><rect x="1477" y="377" width="2" height="2" class="d"/>
<rect x="1483.5" y="369.5" width="3" height="5" class="c"/><rect x="1484" y="371" width="2" height="2" class="d"/>
<rect x="1483.5" y="375.5" width="3" height="5" class="c"/><rect x="1484" y="377" width="2" height="2" class="d"/>
<rect x="1464.5" y="448.5" width="7" height="3" class="c"/><rect x="1467" y="449" width="2" height="2" class="d"/>
<rect x="1464.5" y="454.5" width="6" height="3" class="c"/><rect x="1466" y="455" width="2" height="2" class="d"/>
<rect x="1456.5" y="458.5" width="6" height="3" class="c"/><rect x="1458" y="459" width="2" height="2" class="d"/>
<rect x="1465.5" y="458.5" width="6" height="3" class="c"/><rect x="1467" y="459" width="2" height="2" class="d"/>
<rect x="1456.5" y="463.5" width="6" height="3" class="c"/><rect x="1458" y="464" width="2" height="2" class="d"/>
<rect x="1465.5" y="463.5" width="6" height="3" class="c"/><rect x="1467" y="464" width="2" height="2" class="d"/>
<rect x="1456.5" y="467.5" width="6" height="3" class="c"/><rect x="1458" y="468" width="2" height="2" class="d"/>
<rect x="1465.5" y="467.5" width="6" height="3" class="c"/><rect x="1467" y="468" width="2" height="2" class="d"/>
<rect x="1498.5" y="458.5" width="6" height="3" class="c"/><rect x="1500" y="459" width="2" height="2" class="d"/>
<rect x="1507.5" y="458.5" width="7" height="3" class="c"/><rect x="1510" y="459" width="2" height="2" class="d"/>
<rect x="1498.5" y="463.5" width="6" height="2" class="c"/><rect x="1500" y="464" width="2" height="1" class="d"/>
<rect x="1507.5" y="463.5" width="7" height="2" class="c"/><rect x="1510" y="464" width="2" height="1" class="d"/>
<rect x="1498.5" y="467.5" width="6" height="3" class="c"/><rect x="1500" y="468" width="2" height="2" class="d"/>
<rect x="1507.5" y="467.5" width="7" height="3" class="c"/><rect x="1510" y="468" width="2" height="2" class="d"/>
<rect x="1498.5" y="471.5" width="6" height="3" class="c"/><rect x="1500" y="472" width="2" height="2" class="d"/>
<rect x="1507.5" y="471.5" width="7" height="3" class="c"/><rect x="1510" y="472" width="2" height="2" class="d"/>
<rect x="1477.5" y="480.5" width="3" height="6" class="c"/><rect x="1478" y="482" width="2" height="2" class="d"/>
<rect x="1481.5" y="480.5" width="3" height="6" class="c"/><rect x="1482" y="482" width="2" height="2" class="d"/>
<rect x="1486.5" y="480.5" width="3" height="6" class="c"/><rect x="1487" y="482" width="2" height="2" class="d"/>
<rect x="1490.5" y="480.5" width="3" height="6" class="c"/><rect x="1491" y="482" width="2" height="2" class="d"/>
<rect x="1467.5" y="499.5" width="3" height="6" class="c"/><rect x="1468" y="501" width="2" height="2" class="d"/>
<rect x="1473.5" y="498.5" width="3" height="8" class="c"/><rect x="1474" y="501" width="2" height="3" class="d"/>
<rect x="1497.5" y="500.5" width="3" height="6" class="c"/><rect x="1498" y="502" width="2" height="2" class="d"/>
<rect x="1504.5" y="493.5" width="9" height="3" class="c"/><rect x="1507" y="494" width="3" height="2" class="d"/>
<rect x="1504.5" y="500.5" width="9" height="3" class="c"/><rect x="1507" y="501" width="3" height="2" class="d"/>
<rect x="1504.5" y="506.5" width="9" height="3" class="c"/><rect x="1507" y="507" width="3" height="2" class="d"/>
<rect x="1504.5" y="514.5" width="9" height="3" class="c"/><rect x="1507" y="515" width="3" height="2" class="d"/>
<rect x="1517.5" y="503.5" width="7" height="3" class="c"/><rect x="1520" y="504" width="2" height="2" class="d"/>
<rect x="1475.5" y="509.5" width="6" height="3" class="c"/><rect x="1477" y="510" width="2" height="2" class="d"/>
<rect x="1491.5" y="509.5" width="6" height="3" class="c"/><rect x="1493" y="510" width="2" height="2" class="d"/>
<rect x="1467.5" y="515.5" width="3" height="7" class="c"/><rect x="1468" y="518" width="2" height="2" class="d"/>
<rect x="1473.5" y="515.5" width="3" height="7" class="c"/><rect x="1474" y="518" width="2" height="2" class="d"/>
<rect x="1497.5" y="515.5" width="3" height="6" class="c"/><rect x="1498" y="517" width="2" height="2" class="d"/>
<rect x="1480.5" y="528.5" width="6" height="2" class="c"/><rect x="1482" y="529" width="2" height="1" class="d"/>
<rect x="1492.5" y="528.5" width="6" height="2" class="c"/><rect x="1494" y="529" width="2" height="1" class="d"/>
<rect x="1477.5" y="601.5" width="3" height="6" class="c"/><rect x="1478" y="603" width="2" height="2" class="d"/>
<rect x="1481.5" y="601.5" width="3" height="6" class="c"/><rect x="1482" y="603" width="2" height="2" class="d"/>
<rect x="1477.5" y="610.5" width="7" height="3" class="c"/><rect x="1480" y="611" width="2" height="2" class="d"/>
<rect x="1477.5" y="615.5" width="7" height="2" class="c"/><rect x="1480" y="616" width="2" height="1" class="d"/>
<rect x="1477.5" y="619.5" width="7" height="3" class="c"/><rect x="1480" y="620" width="2" height="2" class="d"/>
<rect x="1477.5" y="627.5" width="3" height="6" class="c"/><rect x="1478" y="629" width="2" height="2" class="d"/>
<rect x="1481.5" y="627.5" width="3" height="6" class="c"/><rect x="1482" y="629" width="2" height="2" class="d"/>
<rect x="1478.5" y="634.5" width="6" height="3" class="c"/><rect x="1480" y="635" width="2" height="2" class="d"/>
<rect x="1424.5" y="626.5" width="3" height="6" class="c"/><rect x="1425" y="628" width="2" height="2" class="d"/>
<rect x="1428.5" y="626.5" width="4" height="6" class="c"/><rect x="1429" y="628" width="3" height="2" class="d"/>
<rect x="811.5" y="279.5" width="6" height="3" class="c"/><rect x="813" y="280" width="2" height="2" class="d"/>
<rect x="811.5" y="284.5" width="6" height="3" class="c"/><rect x="813" y="285" width="2" height="2" class="d"/>
<rect x="811.5" y="288.5" width="6" height="3" class="c"/><rect x="813" y="289" width="2" height="2" class="d"/>
<rect x="811.5" y="292.5" width="6" height="3" class="c"/><rect x="813" y="293" width="2" height="2" class="d"/>
<rect x="811.5" y="297.5" width="6" height="3" class="c"/><rect x="813" y="298" width="2" height="2" class="d"/>
<rect x="811.5" y="301.5" width="6" height="3" class="c"/><rect x="813" y="302" width="2" height="2" class="d"/>
<rect x="811.5" y="305.5" width="6" height="3" class="c"/><rect x="813" y="306" width="2" height="2" class="d"/>
<rect x="811.5" y="309.5" width="6" height="3" class="c"/><rect x="813" y="310" width="2" height="2" class="d"/>
<rect x="823.5" y="277.5" width="3" height="5" class="c"/><rect x="824" y="279" width="2" height="2" class="d"/>
<rect x="101.5" y="116.5" width="14" height="14" class="o"/><rect x="102.5" y="117.5" width="12" height="12" class="i"/><text x="108.5" y="126.02" font-size="7" class="t">J3</text>
<rect x="101.5" y="152.5" width="14" height="14" class="o"/><rect x="102.5" y="153.5" width="12" height="12" class="i"/><text x="108.5" y="162.02" font-size="7" class="t">J5</text>
<rect x="52.5" y="228.5" width="13" height="11" class="o"/><rect x="53.5" y="229.5" width="11" height="9" class="i"/>
<rect x="89.5" y="242.5" width="13" height="11" class="o"/><rect x="90.5" y="243.5" width="11" height="9" class="i"/>
<rect x="97.5" y="263.5" width="13" height="11" class="o"/><rect x="98.5" y="264.5" width="11" height="9" class="i"/>
<rect x="91.5" y="288.5" width="16" height="12" class="o"/><rect x="93" y="290" width="13" height="9" class="p"/><rect x="92" y="289" width="2" height="2" fill="#000"/><rect x="105" y="289" width="2" height="2" fill="#000"/><rect x="92" y="298" width="2" height="2" fill="#000"/><rect x="105" y="298" width="2" height="2" fill="#000"/><text x="99.5" y="296.3" font-size="5" class="t">PWH</text>
<rect x="90.5" y="326.5" width="32" height="32" class="o"/><rect x="92" y="328" width="29" height="29" class="p"/><rect x="91" y="327" width="2" height="2" fill="#000"/><rect x="120" y="327" width="2" height="2" fill="#000"/><rect x="91" y="356" width="2" height="2" fill="#000"/><rect x="120" y="356" width="2" height="2" fill="#000"/><text x="106.5" y="347.9" font-size="15" class="t">U5</text>
<rect x="66.5" y="384.5" width="25" height="20" class="o"/><rect x="67.5" y="385.5" width="23" height="18" class="i"/><text x="79" y="399.18" font-size="13" class="t">U6</text>
<rect x="41.5" y="392.5" width="9" height="12" class="o"/><rect x="42.5" y="393.5" width="7" height="10" class="i"/>
<rect x="83.5" y="414.5" width="8" height="11" class="o"/><rect x="84.5" y="415.5" width="6" height="9" class="i"/>
<rect x="142.5" y="426.5" width="7" height="8" class="o"/><rect x="143.5" y="427.5" width="5" height="6" class="i"/>
<rect x="99.5" y="450.5" width="15" height="15" class="o"/><rect x="101" y="452" width="12" height="12" class="p"/><rect x="100" y="451" width="2" height="2" fill="#000"/><rect x="112" y="451" width="2" height="2" fill="#000"/><rect x="100" y="463" width="2" height="2" fill="#000"/><rect x="112" y="463" width="2" height="2" fill="#000"/><text x="107" y="460.16" font-size="6" class="t">U9</text>
<rect x="103.5" y="474.5" width="11" height="13" class="o"/><rect x="104.5" y="475.5" width="9" height="11" class="i"/>
<rect x="101.5" y="526.5" width="11" height="8" class="o"/><rect x="102.5" y="527.5" width="9" height="6" class="i"/>
<rect x="101.5" y="537.5" width="11" height="8" class="o"/><rect x="102.5" y="538.5" width="9" height="6" class="i"/>
<rect x="72.5" y="676.5" width="8" height="10" class="o"/><rect x="73.5" y="677.5" width="6" height="8" class="i"/>
<rect x="258.5" y="646.5" width="20" height="20" class="o"/><rect x="260" y="648" width="17" height="17" class="p"/><rect x="259" y="647" width="2" height="2" fill="#000"/><rect x="276" y="647" width="2" height="2" fill="#000"/><rect x="259" y="664" width="2" height="2" fill="#000"/><rect x="276" y="664" width="2" height="2" fill="#000"/><text x="268.5" y="658.66" font-size="6" class="t">P63</text>
<rect x="308.5" y="76.5" width="14" height="14" class="o"/><rect x="309.5" y="77.5" width="12" height="12" class="i"/><text x="315.5" y="86.02" font-size="7" class="t">J1</text>
<rect x="308.5" y="99.5" width="14" height="14" class="o"/><rect x="309.5" y="100.5" width="12" height="12" class="i"/><text x="315.5" y="108.3" font-size="5" class="t">J33</text>
<rect x="298.5" y="179.5" width="14" height="14" class="o"/><rect x="299.5" y="180.5" width="12" height="12" class="i"/><text x="305.5" y="188.3" font-size="5" class="t">J10</text>
<rect x="322.5" y="179.5" width="14" height="14" class="o"/><rect x="323.5" y="180.5" width="12" height="12" class="i"/><text x="329.5" y="189.02" font-size="7" class="t">J8</text>
<rect x="347.5" y="179.5" width="14" height="14" class="o"/><rect x="348.5" y="180.5" width="12" height="12" class="i"/><text x="354.5" y="189.02" font-size="7" class="t">J7</text>
<rect x="573.5" y="116.5" width="11" height="8" class="o"/><rect x="574.5" y="117.5" width="9" height="6" class="i"/>
<rect x="592.5" y="116.5" width="11" height="8" class="o"/><rect x="593.5" y="117.5" width="9" height="6" class="i"/>
<rect x="777.5" y="119.5" width="28" height="24" class="o"/><rect x="778.5" y="120.5" width="26" height="22" class="i"/><text x="791.5" y="135.1" font-size="10" class="t">SW1</text>
<rect x="365.5" y="620.5" width="11" height="6" class="o"/><rect x="366.5" y="621.5" width="9" height="4" class="i"/>
<rect x="353.5" y="636.5" width="96" height="14" class="o"/><rect x="354.5" y="637.5" width="94" height="12" class="i"/><text x="401.5" y="647.28" font-size="10.5" class="t">FPC1</text>
<rect x="664.5" y="605.5" width="24" height="24" class="o"/><rect x="666" y="607" width="21" height="21" class="p"/><rect x="665" y="606" width="2" height="2" fill="#000"/><rect x="686" y="606" width="2" height="2" fill="#000"/><rect x="665" y="627" width="2" height="2" fill="#000"/><rect x="686" y="627" width="2" height="2" fill="#000"/><text x="676.5" y="620.02" font-size="7" class="t">U46</text>
<rect x="777.5" y="498.5" width="12" height="16" class="o"/><rect x="778.5" y="499.5" width="10" height="14" class="i"/>
<rect x="958.5" y="419.5" width="11" height="10" class="o"/><rect x="959.5" y="420.5" width="9" height="8" class="i"/>
<rect x="965.5" y="441.5" width="11" height="8" class="o"/><rect x="966.5" y="442.5" width="9" height="6" class="i"/>
<rect x="1157.5" y="341.5" width="14" height="14" class="o"/><rect x="1158.5" y="342.5" width="12" height="12" class="i"/><text x="1164.5" y="350.3" font-size="5" class="t">J20</text>
<rect x="1191.5" y="342.5" width="14" height="14" class="o"/><rect x="1192.5" y="343.5" width="12" height="12" class="i"/><text x="1198.5" y="351.3" font-size="5" class="t">J22</text>
<rect x="1213.5" y="342.5" width="15" height="14" class="o"/><rect x="1214.5" y="343.5" width="13" height="12" class="i"/><text x="1221" y="351.3" font-size="5" class="t">J24</text>
<rect x="1262.5" y="340.5" width="14" height="14" class="o"/><rect x="1263.5" y="341.5" width="12" height="12" class="i"/><text x="1269.5" y="349.3" font-size="5" class="t">J12</text>
<rect x="1308.5" y="340.5" width="14" height="14" class="o"/><rect x="1309.5" y="341.5" width="12" height="12" class="i"/><text x="1315.5" y="349.3" font-size="5" class="t">J15</text>
<rect x="1343.5" y="341.5" width="13" height="14" class="o"/><rect x="1344.5" y="342.5" width="11" height="12" class="i"/><text x="1350" y="350.3" font-size="5" class="t">J19</text>
<rect x="1156.5" y="435.5" width="14" height="14" class="o"/><rect x="1157.5" y="436.5" width="12" height="12" class="i"/><text x="1163.5" y="444.3" font-size="5" class="t">J25</text>
<rect x="1155.5" y="471.5" width="14" height="14" class="o"/><rect x="1156.5" y="472.5" width="12" height="12" class="i"/><text x="1162.5" y="480.3" font-size="5" class="t">J26</text>
<rect x="1154.5" y="494.5" width="14" height="14" class="o"/><rect x="1155.5" y="495.5" width="12" height="12" class="i"/><text x="1161.5" y="503.3" font-size="5" class="t">J30</text>
<rect x="1154.5" y="518.5" width="14" height="14" class="o"/><rect x="1155.5" y="519.5" width="12" height="12" class="i"/><text x="1161.5" y="527.3" font-size="5" class="t">J31</text>
<rect x="1540.5" y="168.5" width="11" height="14" class="o"/><rect x="1541.5" y="169.5" width="9" height="12" class="i"/><text x="1546" y="177.3" font-size="5" class="t">U3</text>
<rect x="1455.5" y="318.5" width="21" height="21" class="o"/><rect x="1457" y="320" width="18" height="18" class="p"/><rect x="1456" y="319" width="2" height="2" fill="#000"/><rect x="1474" y="319" width="2" height="2" fill="#000"/><rect x="1456" y="337" width="2" height="2" fill="#000"/><rect x="1474" y="337" width="2" height="2" fill="#000"/><text x="1466" y="332.42" font-size="9.5" class="t">U4</text>
<rect x="1474.5" y="455.5" width="21" height="20" class="o"/><rect x="1476" y="457" width="18" height="17" class="p"/><rect x="1475" y="456" width="2" height="2" fill="#000"/><rect x="1493" y="456" width="2" height="2" fill="#000"/><rect x="1475" y="473" width="2" height="2" fill="#000"/><rect x="1493" y="473" width="2" height="2" fill="#000"/><text x="1485" y="468.02" font-size="7" class="t">U41</text>
<rect x="1480.5" y="496.5" width="13" height="11" class="o"/><rect x="1481.5" y="497.5" width="11" height="9" class="i"/>
<rect x="1480.5" y="514.5" width="13" height="11" class="o"/><rect x="1481.5" y="515.5" width="11" height="9" class="i"/>
<rect x="147.5" y="456.5" width="15" height="15" fill="#8a8a8a" stroke="#cfcfcf"/>
<rect x="152.12" y="460.8" width="5.76" height="6.4" fill="#1a1a1a"/>
<rect x="939.5" y="544.5" width="14" height="11" fill="#8a8a8a" stroke="#cfcfcf"/>
<rect x="943.8" y="547.6" width="5.4" height="4.8" fill="#1a1a1a"/>
<rect x="529.5" y="614.5" width="7" height="12" class="o"/>
<rect x="530" y="615" width="2" height="11" fill="#8a8a8a"/>
<rect x="534" y="615" width="2" height="11" fill="#8a8a8a"/>
<rect x="546.5" y="613.5" width="7" height="12" class="o"/>
<rect x="547" y="614" width="2" height="11" fill="#8a8a8a"/>
<rect x="551" y="614" width="2" height="11" fill="#8a8a8a"/>
<rect x="546.5" y="628.5" width="7" height="12" class="o"/>
<rect x="547" y="629" width="2" height="11" fill="#8a8a8a"/>
<rect x="551" y="629" width="2" height="11" fill="#8a8a8a"/>
<rect x="550.5" y="643.5" width="6" height="12" class="o"/>
<rect x="551" y="644" width="2" height="11" fill="#8a8a8a"/>
<rect x="554" y="644" width="2" height="11" fill="#8a8a8a"/>
<rect x="550.5" y="659.5" width="11" height="6" class="o"/>
<rect x="551" y="660" width="10" height="2" fill="#8a8a8a"/>
<rect x="551" y="663" width="10" height="2" fill="#8a8a8a"/>
<rect x="565.5" y="659.5" width="11" height="6" class="o"/>
<rect x="566" y="660" width="10" height="2" fill="#8a8a8a"/>
<rect x="566" y="663" width="10" height="2" fill="#8a8a8a"/>
<rect x="568.5" y="609.5" width="29" height="29" fill="#8e8e8e" stroke="#d6d6d6"/>
<rect x="573.5" y="615.5" width="18" height="18" fill="none" stroke="#050505" stroke-width="1.6"/>
<text x="574.6" y="627.8" font-size="11" textLength="16.4" lengthAdjust="spacingAndGlyphs" style="text-anchor:start" class="t"><tspan fill="#c8c8c8">U</tspan><tspan fill="#000">1</tspan><tspan fill="#b0b0b0">7</tspan></text>
<rect x="358" y="637" width="87" height="3" fill="#8c8c8c"/>
<rect x="1488.5" y="587.5" width="68" height="66" fill="none" stroke="#b4b4b4"/>
<text x="1522.5" y="626.3" font-size="17.5" class="t" fill="#8e8e8e">CON1</text>
<g fill="#9a9a9a" shape-rendering="geometricPrecision"><circle cx="1507.25" cy="589.5" r="1"/><circle cx="1542.5" cy="589.5" r="1"/><circle cx="1503" cy="603.25" r="1"/><circle cx="1553" cy="603.25" r="1"/><circle cx="1507.25" cy="652" r="1"/><circle cx="1542.5" cy="652" r="1"/><circle cx="1490" cy="607.5" r="1"/><circle cx="1490" cy="611.25" r="1"/><circle cx="1490" cy="615" r="1"/><circle cx="1490" cy="618.75" r="1"/><circle cx="1490" cy="622.5" r="1"/><circle cx="1490" cy="626.25" r="1"/><circle cx="1490" cy="630" r="1"/><circle cx="1490" cy="633.75" r="1"/><circle cx="1490" cy="637.5" r="1"/><circle cx="1490" cy="641.25" r="1"/><circle cx="1490" cy="645" r="1"/><circle cx="1555.5" cy="616" r="1"/><circle cx="1555.5" cy="619.7" r="1"/><circle cx="1555.5" cy="623.4" r="1"/><circle cx="1555.5" cy="627.1" r="1"/><circle cx="1555.5" cy="630.8" r="1"/><circle cx="1555.5" cy="634.5" r="1"/><circle cx="1555.5" cy="638.2" r="1"/><circle cx="1555.5" cy="641.9" r="1"/><circle cx="1555.5" cy="645.6" r="1"/></g>
<g fill="#0b8e98" shape-rendering="geometricPrecision"><circle cx="72.5" cy="142" r="1.5"/><circle cx="98.5" cy="198" r="1.5"/><circle cx="139" cy="241.5" r="1.5"/><circle cx="119.5" cy="389" r="1.5"/><circle cx="152.75" cy="400.75" r="1.5"/><circle cx="149.75" cy="404" r="1.5"/><circle cx="97" cy="420" r="1.5"/><circle cx="107.5" cy="576" r="1.5"/><circle cx="99.75" cy="648" r="1.5"/><circle cx="18" cy="665" r="1.5"/><circle cx="115" cy="669.5" r="1.5"/><circle cx="182" cy="702" r="1.5"/><circle cx="235" cy="660" r="1.5"/><circle cx="412.5" cy="109" r="1.5"/><circle cx="443.75" cy="104.5" r="1.5"/><circle cx="523.5" cy="231" r="1.5"/><circle cx="528.5" cy="242" r="1.5"/><circle cx="551" cy="256" r="1.5"/><circle cx="609.5" cy="248" r="1.5"/><circle cx="673.75" cy="274" r="1.5"/><circle cx="679" cy="274" r="1.5"/><circle cx="673.25" cy="281" r="1.5"/><circle cx="703.75" cy="294.25" r="1.5"/><circle cx="708.5" cy="294.25" r="1.5"/><circle cx="713.25" cy="294.25" r="1.5"/><circle cx="673.5" cy="303.75" r="1.5"/><circle cx="673.75" cy="311.5" r="1.5"/><circle cx="675.25" cy="316.25" r="1.5"/><circle cx="672.25" cy="320" r="1.5"/><circle cx="666.75" cy="321.75" r="1.5"/><circle cx="690.25" cy="313.5" r="1.5"/><circle cx="769.75" cy="139.25" r="1.5"/><circle cx="1049.75" cy="108" r="1.5"/><circle cx="507.75" cy="595.25" r="1.5"/><circle cx="617.5" cy="605.25" r="1.5"/><circle cx="793.25" cy="498.5" r="1.5"/><circle cx="1511.75" cy="118.25" r="1.5"/><circle cx="1493.25" cy="200.25" r="1.5"/><circle cx="1502.5" cy="242.75" r="1.5"/><circle cx="1459.25" cy="265.25" r="1.5"/><circle cx="1439.25" cy="583.5" r="1.5"/><circle cx="1515.5" cy="668" r="1.5"/><circle cx="1410.25" cy="685.75" r="1.5"/></g>
<path d="M788 385V425M768 405H808" stroke="#93737b" stroke-width="2" fill="none"/>
<rect x="787" y="404" width="2" height="2" fill="#c09aa2"/>
</svg></body></html>
